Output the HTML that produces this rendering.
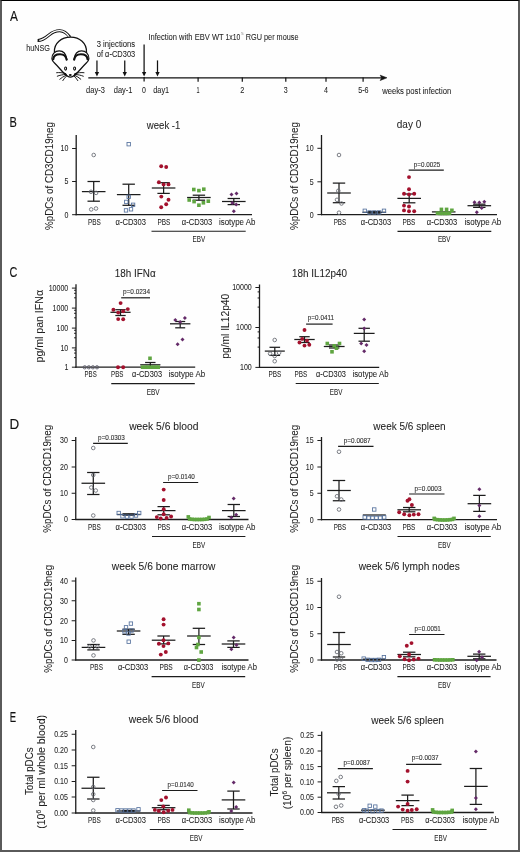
<!DOCTYPE html>
<html><head><meta charset="utf-8"><style>
html,body{margin:0;padding:0;background:#fff;}
body{width:520px;height:852px;overflow:hidden;position:relative;}
#fr{position:absolute;left:0;top:0;width:520px;height:852px;box-sizing:border-box;border-top:1.5px solid #000;border-left:2px solid #5a5a5a;border-right:2px solid #5a5a5a;border-bottom:2px solid #5a5a5a;pointer-events:none;}
svg{position:absolute;left:0;top:0;display:block;will-change:transform;}
svg text{font-family:"Liberation Sans", sans-serif;}
</style></head><body>
<svg width="520" height="852" viewBox="0 0 520 852" font-family="Liberation Sans, sans-serif">
<rect x="0" y="0" width="520" height="852" fill="#fefefe"/>
<text x="9.90" y="21.40" font-size="14.2" text-anchor="start" fill="#111" stroke="#111" stroke-width="0.1" textLength="7.92" lengthAdjust="spacingAndGlyphs" >A</text>
<text x="9.62" y="127.30" font-size="14.2" text-anchor="start" fill="#111" stroke="#111" stroke-width="0.1" textLength="7.36" lengthAdjust="spacingAndGlyphs" >B</text>
<text x="9.56" y="276.50" font-size="14.2" text-anchor="start" fill="#111" stroke="#111" stroke-width="0.1" textLength="7.85" lengthAdjust="spacingAndGlyphs" >C</text>
<text x="9.42" y="429.10" font-size="14.2" text-anchor="start" fill="#111" stroke="#111" stroke-width="0.1" textLength="9.71" lengthAdjust="spacingAndGlyphs" >D</text>
<text x="9.74" y="722.30" font-size="14.2" text-anchor="start" fill="#111" stroke="#111" stroke-width="0.1" textLength="6.36" lengthAdjust="spacingAndGlyphs" >E</text>
<g fill="none" stroke="#111" stroke-width="1.25" stroke-linecap="round" stroke-linejoin="round">
<path d="M37.6 40.5 C42 40.6 46 37.5 49 35 C52 32.5 55.5 30.6 59.8 30.7 C63.8 30.8 67.2 33.5 70 37.2" stroke-width="3.0" stroke-linecap="butt"/>
<path d="M39.3 40.4 C42.5 40.2 46 37.5 49 35 C52 32.5 55.5 30.6 59.8 30.7 C63.8 30.8 67.2 33.5 69.6 37.6" stroke="#fff" stroke-width="1.3" stroke-linecap="butt"/>
<path d="M54.4 52 C54 43 61.5 37.2 70.6 37.2 C79.5 37.2 87 43 86.5 52.5" fill="#fff"/>
<path d="M66.9 59.5 C66 53.5 62.5 50.9 59.2 50.9 C55 50.9 51.6 54.2 51.9 58.6 C52.1 60.6 53.1 61.8 54.5 63 C57.8 66.2 60.8 70 63.8 73 C65.8 75 68 77.1 70.4 77.1 C72.8 77.1 75 75 77 73 C80 70 83 66.2 86.3 63 C87.7 61.8 88.7 60.6 88.9 58.6 C89.2 54.2 85.8 50.9 81.6 50.9 C78.3 50.9 74.8 53.5 73.9 59.5" fill="#fff"/>
<path d="M53.3 59.3 C53.5 55.9 56.5 54.3 60.0 54.3 C63.5 54.3 66.0 56.1 66.6 59.6" stroke-width="2.1"/>
<path d="M87.5 59.3 C87.3 55.9 84.3 54.3 80.8 54.3 C77.3 54.3 74.8 56.1 74.2 59.6" stroke-width="2.1"/>
</g>
<g fill="#fff" stroke="#111" stroke-width="1.05">
<ellipse cx="65.6" cy="68.6" rx="1.0" ry="1.55"/><ellipse cx="74.6" cy="68.6" rx="1.0" ry="1.55"/>
</g>
<ellipse cx="70.3" cy="75.0" rx="1.45" ry="1.1" fill="#111"/>
<g fill="none" stroke="#111" stroke-width="0.95" stroke-linecap="round">
<path d="M65.8 73.6 C62.5 72.6 59.5 72.4 56.6 72.7"/>
<path d="M65.8 74.5 C62.5 74.6 59.8 75.2 57.3 76.2"/>
<path d="M66.2 75.2 C63.8 76.3 61.6 77.6 59.8 79.2"/>
<path d="M66.8 75.8 C65.2 77.3 63.8 78.9 62.8 80.6"/>
<path d="M74.8 73.6 C78.1 72.6 81.1 72.4 84.0 72.7"/>
<path d="M74.8 74.5 C78.1 74.6 80.8 75.2 83.3 76.2"/>
<path d="M74.4 75.2 C76.8 76.3 79.0 77.6 80.8 79.2"/>
<path d="M73.8 75.8 C75.4 77.3 76.8 78.9 77.8 80.6"/>
</g>
<path d="M63.8 72.6 L66.8 74.2 L66.4 76 L64.2 74.6 Z M76.8 72.6 L73.8 74.2 L74.2 76 L76.4 74.6 Z" fill="#111"/>
<text x="26.13" y="50.60" font-size="8.3" text-anchor="start" fill="#1e1e1e" stroke="#1e1e1e" stroke-width="0.06" textLength="23.92" lengthAdjust="spacingAndGlyphs" >huNSG</text>
<line x1="88.3" y1="77.8" x2="382" y2="77.8" stroke="#111" stroke-width="1.3"/>
<path d="M386.9 77.8 L380.2 75.2 L381.7 77.8 L380.2 80.5 Z" fill="#111" stroke="#111" stroke-width="0.6" stroke-linejoin="round"/>
<line x1="96.95" y1="60.40" x2="96.95" y2="73.50" stroke="#111" stroke-width="1.25"/>
<path d="M94.80 72.10 L99.10 72.10 L96.95 76.50 Z" fill="#111"/>
<line x1="124.75" y1="60.40" x2="124.75" y2="73.50" stroke="#111" stroke-width="1.25"/>
<path d="M122.60 72.10 L126.90 72.10 L124.75 76.50 Z" fill="#111"/>
<line x1="144.10" y1="44.60" x2="144.10" y2="73.50" stroke="#111" stroke-width="1.25"/>
<path d="M141.95 72.10 L146.25 72.10 L144.10 76.50 Z" fill="#111"/>
<line x1="157.50" y1="60.40" x2="157.50" y2="73.50" stroke="#111" stroke-width="1.25"/>
<path d="M155.35 72.10 L159.65 72.10 L157.50 76.50 Z" fill="#111"/>
<line x1="144.10" y1="77.00" x2="144.10" y2="81.60" stroke="#111" stroke-width="1.2"/>
<line x1="198.10" y1="77.50" x2="198.10" y2="81.70" stroke="#111" stroke-width="1.2"/>
<line x1="242.30" y1="77.50" x2="242.30" y2="81.70" stroke="#111" stroke-width="1.2"/>
<line x1="285.80" y1="77.50" x2="285.80" y2="81.70" stroke="#111" stroke-width="1.2"/>
<line x1="326.00" y1="77.50" x2="326.00" y2="81.70" stroke="#111" stroke-width="1.2"/>
<line x1="363.10" y1="77.50" x2="363.10" y2="81.70" stroke="#111" stroke-width="1.2"/>
<text x="96.73" y="46.70" font-size="8.4" text-anchor="start" fill="#1e1e1e" stroke="#1e1e1e" stroke-width="0.06" textLength="38.42" lengthAdjust="spacingAndGlyphs" >3 injections</text>
<text x="96.80" y="56.60" font-size="8.4" text-anchor="start" fill="#1e1e1e" stroke="#1e1e1e" stroke-width="0.06" textLength="38.40" lengthAdjust="spacingAndGlyphs" >of &#945;-CD303</text>
<text x="148.42" y="39.90" font-size="8.5" text-anchor="start" fill="#1e1e1e" stroke="#1e1e1e" stroke-width="0.06" textLength="75.25" lengthAdjust="spacingAndGlyphs" >Infection with EBV WT</text>
<text x="225.59" y="39.90" font-size="8.5" text-anchor="start" fill="#1e1e1e" stroke="#1e1e1e" stroke-width="0.06" textLength="14.67" lengthAdjust="spacingAndGlyphs" >1x10</text>
<text x="241.13" y="35.30" font-size="4.4" text-anchor="start" fill="#777" stroke="#777" stroke-width="0" textLength="2.34" lengthAdjust="spacingAndGlyphs" >5</text>
<text x="245.82" y="39.90" font-size="8.5" text-anchor="start" fill="#1e1e1e" stroke="#1e1e1e" stroke-width="0.06" textLength="52.67" lengthAdjust="spacingAndGlyphs" >RGU per mouse</text>
<text x="86.10" y="92.50" font-size="8.4" text-anchor="start" fill="#1e1e1e" stroke="#1e1e1e" stroke-width="0.06" textLength="18.71" lengthAdjust="spacingAndGlyphs" >day-3</text>
<text x="113.80" y="92.50" font-size="8.4" text-anchor="start" fill="#1e1e1e" stroke="#1e1e1e" stroke-width="0.06" textLength="18.65" lengthAdjust="spacingAndGlyphs" >day-1</text>
<text x="142.05" y="92.50" font-size="8.4" text-anchor="start" fill="#1e1e1e" stroke="#1e1e1e" stroke-width="0.06" textLength="3.90" lengthAdjust="spacingAndGlyphs" >0</text>
<text x="153.21" y="92.50" font-size="8.4" text-anchor="start" fill="#1e1e1e" stroke="#1e1e1e" stroke-width="0.06" textLength="15.95" lengthAdjust="spacingAndGlyphs" >day1</text>
<text x="196.49" y="92.50" font-size="8.4" text-anchor="start" fill="#1e1e1e" stroke="#1e1e1e" stroke-width="0.06" textLength="3.07" lengthAdjust="spacingAndGlyphs" >1</text>
<text x="240.23" y="92.50" font-size="8.4" text-anchor="start" fill="#1e1e1e" stroke="#1e1e1e" stroke-width="0.06" textLength="4.11" lengthAdjust="spacingAndGlyphs" >2</text>
<text x="283.85" y="92.50" font-size="8.4" text-anchor="start" fill="#1e1e1e" stroke="#1e1e1e" stroke-width="0.06" textLength="3.94" lengthAdjust="spacingAndGlyphs" >3</text>
<text x="324.06" y="92.50" font-size="8.4" text-anchor="start" fill="#1e1e1e" stroke="#1e1e1e" stroke-width="0.06" textLength="3.93" lengthAdjust="spacingAndGlyphs" >4</text>
<text x="358.21" y="92.50" font-size="8.4" text-anchor="start" fill="#1e1e1e" stroke="#1e1e1e" stroke-width="0.06" textLength="10.38" lengthAdjust="spacingAndGlyphs" >5-6</text>
<text x="382.14" y="93.80" font-size="8.5" text-anchor="start" fill="#1e1e1e" stroke="#1e1e1e" stroke-width="0.06" textLength="69.12" lengthAdjust="spacingAndGlyphs" >weeks post infection</text>
<line x1="76.20" y1="135.00" x2="76.20" y2="215.30" stroke="#1c1c1c" stroke-width="1.3"/>
<line x1="75.60" y1="214.70" x2="252.00" y2="214.70" stroke="#1c1c1c" stroke-width="1.3"/>
<line x1="72.10" y1="148.50" x2="76.20" y2="148.50" stroke="#1c1c1c" stroke-width="1.0"/>
<text x="60.51" y="151.40" font-size="8.4" text-anchor="start" fill="#1e1e1e" stroke="#1e1e1e" stroke-width="0.06" textLength="7.85" lengthAdjust="spacingAndGlyphs" >10</text>
<line x1="72.10" y1="181.50" x2="76.20" y2="181.50" stroke="#1c1c1c" stroke-width="1.0"/>
<text x="64.47" y="184.40" font-size="8.4" text-anchor="start" fill="#1e1e1e" stroke="#1e1e1e" stroke-width="0.06" textLength="3.92" lengthAdjust="spacingAndGlyphs" >5</text>
<line x1="72.10" y1="214.70" x2="76.20" y2="214.70" stroke="#1c1c1c" stroke-width="1.0"/>
<text x="64.43" y="217.60" font-size="8.4" text-anchor="start" fill="#1e1e1e" stroke="#1e1e1e" stroke-width="0.06" textLength="3.92" lengthAdjust="spacingAndGlyphs" >0</text>
<text x="146.85" y="128.50" font-size="11.2" text-anchor="start" fill="#1e1e1e" stroke="#1e1e1e" stroke-width="0.06" textLength="33.50" lengthAdjust="spacingAndGlyphs" >week -1</text>
<text transform="translate(52.50,176.00) rotate(-90)" x="0" y="0" font-size="10" text-anchor="middle" fill="#1e1e1e" stroke="#1e1e1e" stroke-width="0.06" textLength="108.00" lengthAdjust="spacingAndGlyphs">%pDCs of CD3CD19neg</text>
<line x1="81.90" y1="191.60" x2="105.50" y2="191.60" stroke="#1c1c1c" stroke-width="1.25"/>
<line x1="93.70" y1="181.50" x2="93.70" y2="201.20" stroke="#1c1c1c" stroke-width="1.25"/>
<line x1="87.50" y1="181.50" x2="99.90" y2="181.50" stroke="#1c1c1c" stroke-width="1.25"/>
<line x1="87.50" y1="201.20" x2="99.90" y2="201.20" stroke="#1c1c1c" stroke-width="1.25"/>
<circle cx="93.70" cy="155.00" r="1.8" fill="none" stroke="#646870" stroke-width="0.85"/>
<circle cx="91.20" cy="209.40" r="1.8" fill="none" stroke="#646870" stroke-width="0.85"/>
<circle cx="96.00" cy="208.50" r="1.8" fill="none" stroke="#646870" stroke-width="0.85"/>
<circle cx="91.00" cy="191.80" r="1.8" fill="none" stroke="#646870" stroke-width="0.85"/>
<circle cx="96.10" cy="192.90" r="1.8" fill="none" stroke="#646870" stroke-width="0.85"/>
<line x1="116.90" y1="194.60" x2="140.50" y2="194.60" stroke="#1c1c1c" stroke-width="1.25"/>
<line x1="128.70" y1="184.20" x2="128.70" y2="205.30" stroke="#1c1c1c" stroke-width="1.25"/>
<line x1="122.50" y1="184.20" x2="134.90" y2="184.20" stroke="#1c1c1c" stroke-width="1.25"/>
<line x1="122.50" y1="205.30" x2="134.90" y2="205.30" stroke="#1c1c1c" stroke-width="1.25"/>
<rect x="127.00" y="142.50" width="3.4" height="3.4" fill="none" stroke="#56729e" stroke-width="0.85"/>
<rect x="127.00" y="195.10" width="3.4" height="3.4" fill="none" stroke="#56729e" stroke-width="0.85"/>
<rect x="124.60" y="200.20" width="3.4" height="3.4" fill="none" stroke="#56729e" stroke-width="0.85"/>
<rect x="131.40" y="203.10" width="3.4" height="3.4" fill="none" stroke="#56729e" stroke-width="0.85"/>
<rect x="129.30" y="207.60" width="3.4" height="3.4" fill="none" stroke="#56729e" stroke-width="0.85"/>
<rect x="124.30" y="208.70" width="3.4" height="3.4" fill="none" stroke="#56729e" stroke-width="0.85"/>
<line x1="151.80" y1="188.00" x2="175.40" y2="188.00" stroke="#1c1c1c" stroke-width="1.25"/>
<line x1="163.60" y1="182.70" x2="163.60" y2="193.40" stroke="#1c1c1c" stroke-width="1.25"/>
<line x1="157.40" y1="182.70" x2="169.80" y2="182.70" stroke="#1c1c1c" stroke-width="1.25"/>
<line x1="157.40" y1="193.40" x2="169.80" y2="193.40" stroke="#1c1c1c" stroke-width="1.25"/>
<circle cx="161.20" cy="166.20" r="1.95" fill="#a3112d"/>
<circle cx="166.20" cy="167.00" r="1.95" fill="#a3112d"/>
<circle cx="158.90" cy="182.30" r="1.95" fill="#a3112d"/>
<circle cx="163.60" cy="184.40" r="1.95" fill="#a3112d"/>
<circle cx="168.50" cy="184.40" r="1.95" fill="#a3112d"/>
<circle cx="161.30" cy="196.60" r="1.95" fill="#a3112d"/>
<circle cx="168.50" cy="199.80" r="1.95" fill="#a3112d"/>
<circle cx="166.20" cy="204.20" r="1.95" fill="#a3112d"/>
<circle cx="161.20" cy="207.30" r="1.95" fill="#a3112d"/>
<line x1="187.10" y1="197.50" x2="210.70" y2="197.50" stroke="#1c1c1c" stroke-width="1.25"/>
<line x1="198.90" y1="195.20" x2="198.90" y2="200.20" stroke="#1c1c1c" stroke-width="1.25"/>
<line x1="192.70" y1="195.20" x2="205.10" y2="195.20" stroke="#1c1c1c" stroke-width="1.25"/>
<line x1="192.70" y1="200.20" x2="205.10" y2="200.20" stroke="#1c1c1c" stroke-width="1.25"/>
<rect x="192.00" y="187.70" width="3.6" height="3.6" fill="#5fa541"/>
<rect x="197.10" y="188.80" width="3.6" height="3.6" fill="#5fa541"/>
<rect x="202.00" y="187.40" width="3.6" height="3.6" fill="#5fa541"/>
<rect x="187.40" y="198.20" width="3.6" height="3.6" fill="#5fa541"/>
<rect x="192.30" y="199.80" width="3.6" height="3.6" fill="#5fa541"/>
<rect x="197.10" y="203.40" width="3.6" height="3.6" fill="#5fa541"/>
<rect x="201.60" y="201.00" width="3.6" height="3.6" fill="#5fa541"/>
<rect x="206.50" y="199.40" width="3.6" height="3.6" fill="#5fa541"/>
<line x1="222.00" y1="201.50" x2="245.60" y2="201.50" stroke="#1c1c1c" stroke-width="1.25"/>
<line x1="233.80" y1="198.50" x2="233.80" y2="204.60" stroke="#1c1c1c" stroke-width="1.25"/>
<line x1="227.60" y1="198.50" x2="240.00" y2="198.50" stroke="#1c1c1c" stroke-width="1.25"/>
<line x1="227.60" y1="204.60" x2="240.00" y2="204.60" stroke="#1c1c1c" stroke-width="1.25"/>
<path d="M231.50 192.60L233.50 194.60L231.50 196.60L229.50 194.60Z" fill="#642a68"/>
<path d="M236.50 191.40L238.50 193.40L236.50 195.40L234.50 193.40Z" fill="#642a68"/>
<path d="M232.30 201.00L234.30 203.00L232.30 205.00L230.30 203.00Z" fill="#642a68"/>
<path d="M236.20 202.60L238.20 204.60L236.20 206.60L234.20 204.60Z" fill="#642a68"/>
<path d="M233.80 209.20L235.80 211.20L233.80 213.20L231.80 211.20Z" fill="#642a68"/>
<text x="87.89" y="224.65" font-size="8.4" text-anchor="start" fill="#1e1e1e" stroke="#1e1e1e" stroke-width="0.06" textLength="12.83" lengthAdjust="spacingAndGlyphs" >PBS</text>
<text x="115.50" y="224.65" font-size="8.4" text-anchor="start" fill="#1e1e1e" stroke="#1e1e1e" stroke-width="0.06" textLength="30.50" lengthAdjust="spacingAndGlyphs" >&#945;-CD303</text>
<text x="157.39" y="224.65" font-size="8.4" text-anchor="start" fill="#1e1e1e" stroke="#1e1e1e" stroke-width="0.06" textLength="12.88" lengthAdjust="spacingAndGlyphs" >PBS</text>
<text x="181.80" y="224.65" font-size="8.4" text-anchor="start" fill="#1e1e1e" stroke="#1e1e1e" stroke-width="0.06" textLength="30.50" lengthAdjust="spacingAndGlyphs" >&#945;-CD303</text>
<text x="218.99" y="224.65" font-size="8.4" text-anchor="start" fill="#1e1e1e" stroke="#1e1e1e" stroke-width="0.06" textLength="36.42" lengthAdjust="spacingAndGlyphs" >isotype Ab</text>
<line x1="151.50" y1="231.20" x2="245.70" y2="231.20" stroke="#1c1c1c" stroke-width="1.15"/>
<text x="192.60" y="242.30" font-size="8.4" text-anchor="start" fill="#1e1e1e" stroke="#1e1e1e" stroke-width="0.06" textLength="12.61" lengthAdjust="spacingAndGlyphs" >EBV</text>
<line x1="321.50" y1="135.00" x2="321.50" y2="215.20" stroke="#1c1c1c" stroke-width="1.3"/>
<line x1="320.90" y1="214.60" x2="497.00" y2="214.60" stroke="#1c1c1c" stroke-width="1.3"/>
<line x1="317.40" y1="148.30" x2="321.50" y2="148.30" stroke="#1c1c1c" stroke-width="1.0"/>
<text x="305.81" y="151.20" font-size="8.4" text-anchor="start" fill="#1e1e1e" stroke="#1e1e1e" stroke-width="0.06" textLength="7.85" lengthAdjust="spacingAndGlyphs" >10</text>
<line x1="317.40" y1="181.80" x2="321.50" y2="181.80" stroke="#1c1c1c" stroke-width="1.0"/>
<text x="309.77" y="184.70" font-size="8.4" text-anchor="start" fill="#1e1e1e" stroke="#1e1e1e" stroke-width="0.06" textLength="3.92" lengthAdjust="spacingAndGlyphs" >5</text>
<line x1="317.40" y1="214.60" x2="321.50" y2="214.60" stroke="#1c1c1c" stroke-width="1.0"/>
<text x="309.73" y="217.50" font-size="8.4" text-anchor="start" fill="#1e1e1e" stroke="#1e1e1e" stroke-width="0.06" textLength="3.92" lengthAdjust="spacingAndGlyphs" >0</text>
<text x="396.80" y="128.20" font-size="11.2" text-anchor="start" fill="#1e1e1e" stroke="#1e1e1e" stroke-width="0.06" textLength="24.46" lengthAdjust="spacingAndGlyphs" >day 0</text>
<text transform="translate(297.80,176.00) rotate(-90)" x="0" y="0" font-size="10" text-anchor="middle" fill="#1e1e1e" stroke="#1e1e1e" stroke-width="0.06" textLength="108.00" lengthAdjust="spacingAndGlyphs">%pDCs of CD3CD19neg</text>
<line x1="327.20" y1="193.00" x2="350.80" y2="193.00" stroke="#1c1c1c" stroke-width="1.25"/>
<line x1="339.00" y1="183.10" x2="339.00" y2="202.70" stroke="#1c1c1c" stroke-width="1.25"/>
<line x1="332.80" y1="183.10" x2="345.20" y2="183.10" stroke="#1c1c1c" stroke-width="1.25"/>
<line x1="332.80" y1="202.70" x2="345.20" y2="202.70" stroke="#1c1c1c" stroke-width="1.25"/>
<circle cx="339.00" cy="155.00" r="1.8" fill="none" stroke="#646870" stroke-width="0.85"/>
<circle cx="338.30" cy="190.80" r="1.8" fill="none" stroke="#646870" stroke-width="0.85"/>
<circle cx="337.00" cy="199.80" r="1.8" fill="none" stroke="#646870" stroke-width="0.85"/>
<circle cx="341.50" cy="203.50" r="1.8" fill="none" stroke="#646870" stroke-width="0.85"/>
<circle cx="339.00" cy="212.70" r="1.8" fill="none" stroke="#646870" stroke-width="0.85"/>
<line x1="362.50" y1="212.30" x2="386.10" y2="212.30" stroke="#1c1c1c" stroke-width="1.25"/>
<line x1="374.30" y1="211.50" x2="374.30" y2="213.20" stroke="#1c1c1c" stroke-width="1.25"/>
<line x1="368.10" y1="211.50" x2="380.50" y2="211.50" stroke="#1c1c1c" stroke-width="1.25"/>
<line x1="368.10" y1="213.20" x2="380.50" y2="213.20" stroke="#1c1c1c" stroke-width="1.25"/>
<rect x="363.10" y="209.10" width="3.4" height="3.4" fill="none" stroke="#56729e" stroke-width="0.85"/>
<rect x="382.30" y="209.10" width="3.4" height="3.4" fill="none" stroke="#56729e" stroke-width="0.85"/>
<rect x="367.80" y="210.80" width="3.4" height="3.4" fill="none" stroke="#56729e" stroke-width="0.85"/>
<rect x="372.60" y="210.80" width="3.4" height="3.4" fill="none" stroke="#56729e" stroke-width="0.85"/>
<rect x="377.50" y="210.80" width="3.4" height="3.4" fill="none" stroke="#56729e" stroke-width="0.85"/>
<line x1="397.40" y1="198.40" x2="421.00" y2="198.40" stroke="#1c1c1c" stroke-width="1.25"/>
<line x1="409.20" y1="194.00" x2="409.20" y2="202.80" stroke="#1c1c1c" stroke-width="1.25"/>
<line x1="403.00" y1="194.00" x2="415.40" y2="194.00" stroke="#1c1c1c" stroke-width="1.25"/>
<line x1="403.00" y1="202.80" x2="415.40" y2="202.80" stroke="#1c1c1c" stroke-width="1.25"/>
<circle cx="409.00" cy="177.10" r="1.95" fill="#a3112d"/>
<circle cx="409.00" cy="189.20" r="1.95" fill="#a3112d"/>
<circle cx="404.00" cy="193.70" r="1.95" fill="#a3112d"/>
<circle cx="409.00" cy="194.40" r="1.95" fill="#a3112d"/>
<circle cx="414.20" cy="193.70" r="1.95" fill="#a3112d"/>
<circle cx="404.00" cy="205.60" r="1.95" fill="#a3112d"/>
<circle cx="409.00" cy="206.50" r="1.95" fill="#a3112d"/>
<circle cx="404.00" cy="210.40" r="1.95" fill="#a3112d"/>
<circle cx="409.00" cy="211.30" r="1.95" fill="#a3112d"/>
<circle cx="414.20" cy="211.30" r="1.95" fill="#a3112d"/>
<line x1="431.90" y1="211.90" x2="455.50" y2="211.90" stroke="#1c1c1c" stroke-width="1.25"/>
<line x1="443.70" y1="211.90" x2="443.70" y2="211.90" stroke="#1c1c1c" stroke-width="1.25"/>
<line x1="443.70" y1="211.90" x2="443.70" y2="211.90" stroke="#1c1c1c" stroke-width="1.25"/>
<line x1="443.70" y1="211.90" x2="443.70" y2="211.90" stroke="#1c1c1c" stroke-width="1.25"/>
<rect x="435.70" y="211.40" width="3.6" height="3.6" fill="#5fa541"/>
<rect x="438.20" y="211.60" width="3.6" height="3.6" fill="#5fa541"/>
<rect x="440.70" y="211.60" width="3.6" height="3.6" fill="#5fa541"/>
<rect x="443.20" y="211.60" width="3.6" height="3.6" fill="#5fa541"/>
<rect x="445.70" y="211.60" width="3.6" height="3.6" fill="#5fa541"/>
<rect x="447.70" y="211.40" width="3.6" height="3.6" fill="#5fa541"/>
<rect x="439.60" y="207.60" width="3.6" height="3.6" fill="#5fa541"/>
<rect x="444.80" y="207.60" width="3.6" height="3.6" fill="#5fa541"/>
<rect x="450.10" y="208.50" width="3.6" height="3.6" fill="#5fa541"/>
<line x1="467.50" y1="205.70" x2="491.10" y2="205.70" stroke="#1c1c1c" stroke-width="1.25"/>
<line x1="479.30" y1="204.20" x2="479.30" y2="207.40" stroke="#1c1c1c" stroke-width="1.25"/>
<line x1="473.10" y1="204.20" x2="485.50" y2="204.20" stroke="#1c1c1c" stroke-width="1.25"/>
<line x1="473.10" y1="207.40" x2="485.50" y2="207.40" stroke="#1c1c1c" stroke-width="1.25"/>
<path d="M474.50 200.30L476.50 202.30L474.50 204.30L472.50 202.30Z" fill="#642a68"/>
<path d="M479.30 200.50L481.30 202.50L479.30 204.50L477.30 202.50Z" fill="#642a68"/>
<path d="M484.30 199.70L486.30 201.70L484.30 203.70L482.30 201.70Z" fill="#642a68"/>
<path d="M481.70 206.00L483.70 208.00L481.70 210.00L479.70 208.00Z" fill="#642a68"/>
<path d="M476.80 210.30L478.80 212.30L476.80 214.30L474.80 212.30Z" fill="#642a68"/>
<line x1="408.70" y1="170.10" x2="443.80" y2="170.10" stroke="#1c1c1c" stroke-width="1.2"/>
<text x="413.72" y="166.60" font-size="6.7" text-anchor="start" fill="#2e2e2e" stroke="#2e2e2e" stroke-width="0.1" textLength="26.42" lengthAdjust="spacingAndGlyphs" >p=0.0025</text>
<text x="333.70" y="224.65" font-size="8.4" text-anchor="start" fill="#1e1e1e" stroke="#1e1e1e" stroke-width="0.06" textLength="12.51" lengthAdjust="spacingAndGlyphs" >PBS</text>
<text x="360.80" y="224.65" font-size="8.4" text-anchor="start" fill="#1e1e1e" stroke="#1e1e1e" stroke-width="0.06" textLength="30.30" lengthAdjust="spacingAndGlyphs" >&#945;-CD303</text>
<text x="402.39" y="224.65" font-size="8.4" text-anchor="start" fill="#1e1e1e" stroke="#1e1e1e" stroke-width="0.06" textLength="12.88" lengthAdjust="spacingAndGlyphs" >PBS</text>
<text x="426.80" y="224.65" font-size="8.4" text-anchor="start" fill="#1e1e1e" stroke="#1e1e1e" stroke-width="0.06" textLength="30.50" lengthAdjust="spacingAndGlyphs" >&#945;-CD303</text>
<text x="464.48" y="224.65" font-size="8.4" text-anchor="start" fill="#1e1e1e" stroke="#1e1e1e" stroke-width="0.06" textLength="36.73" lengthAdjust="spacingAndGlyphs" >isotype Ab</text>
<line x1="397.50" y1="231.30" x2="491.30" y2="231.30" stroke="#1c1c1c" stroke-width="1.15"/>
<text x="437.90" y="242.40" font-size="8.4" text-anchor="start" fill="#1e1e1e" stroke="#1e1e1e" stroke-width="0.06" textLength="12.61" lengthAdjust="spacingAndGlyphs" >EBV</text>
<line x1="76.00" y1="284.30" x2="76.00" y2="367.80" stroke="#1c1c1c" stroke-width="1.3"/>
<line x1="75.40" y1="367.20" x2="195.20" y2="367.20" stroke="#1c1c1c" stroke-width="1.3"/>
<line x1="71.90" y1="288.10" x2="76.00" y2="288.10" stroke="#1c1c1c" stroke-width="1.0"/>
<text x="48.63" y="291.00" font-size="8.4" text-anchor="start" fill="#1e1e1e" stroke="#1e1e1e" stroke-width="0.06" textLength="19.62" lengthAdjust="spacingAndGlyphs" >10000</text>
<line x1="71.90" y1="308.10" x2="76.00" y2="308.10" stroke="#1c1c1c" stroke-width="1.0"/>
<text x="52.55" y="311.00" font-size="8.4" text-anchor="start" fill="#1e1e1e" stroke="#1e1e1e" stroke-width="0.06" textLength="15.70" lengthAdjust="spacingAndGlyphs" >1000</text>
<line x1="71.90" y1="328.10" x2="76.00" y2="328.10" stroke="#1c1c1c" stroke-width="1.0"/>
<text x="56.50" y="331.00" font-size="8.4" text-anchor="start" fill="#1e1e1e" stroke="#1e1e1e" stroke-width="0.06" textLength="11.77" lengthAdjust="spacingAndGlyphs" >100</text>
<line x1="71.90" y1="347.90" x2="76.00" y2="347.90" stroke="#1c1c1c" stroke-width="1.0"/>
<text x="60.41" y="350.80" font-size="8.4" text-anchor="start" fill="#1e1e1e" stroke="#1e1e1e" stroke-width="0.06" textLength="7.85" lengthAdjust="spacingAndGlyphs" >10</text>
<line x1="71.90" y1="367.20" x2="76.00" y2="367.20" stroke="#1c1c1c" stroke-width="1.0"/>
<text x="64.40" y="370.10" font-size="8.4" text-anchor="start" fill="#1e1e1e" stroke="#1e1e1e" stroke-width="0.06" textLength="3.92" lengthAdjust="spacingAndGlyphs" >1</text>
<line x1="74.10" y1="290.28" x2="76.00" y2="290.28" stroke="#1c1c1c" stroke-width="1.0"/>
<line x1="74.10" y1="293.29" x2="76.00" y2="293.29" stroke="#1c1c1c" stroke-width="1.0"/>
<line x1="74.10" y1="297.80" x2="76.00" y2="297.80" stroke="#1c1c1c" stroke-width="1.0"/>
<line x1="74.10" y1="310.28" x2="76.00" y2="310.28" stroke="#1c1c1c" stroke-width="1.0"/>
<line x1="74.10" y1="313.29" x2="76.00" y2="313.29" stroke="#1c1c1c" stroke-width="1.0"/>
<line x1="74.10" y1="317.80" x2="76.00" y2="317.80" stroke="#1c1c1c" stroke-width="1.0"/>
<line x1="74.10" y1="330.28" x2="76.00" y2="330.28" stroke="#1c1c1c" stroke-width="1.0"/>
<line x1="74.10" y1="333.29" x2="76.00" y2="333.29" stroke="#1c1c1c" stroke-width="1.0"/>
<line x1="74.10" y1="337.80" x2="76.00" y2="337.80" stroke="#1c1c1c" stroke-width="1.0"/>
<line x1="74.10" y1="350.08" x2="76.00" y2="350.08" stroke="#1c1c1c" stroke-width="1.0"/>
<line x1="74.10" y1="353.09" x2="76.00" y2="353.09" stroke="#1c1c1c" stroke-width="1.0"/>
<line x1="74.10" y1="357.60" x2="76.00" y2="357.60" stroke="#1c1c1c" stroke-width="1.0"/>
<text x="114.86" y="276.70" font-size="11.2" text-anchor="start" fill="#1e1e1e" stroke="#1e1e1e" stroke-width="0.06" textLength="40.84" lengthAdjust="spacingAndGlyphs" >18h IFN&#945;</text>
<text transform="translate(42.60,326.25) rotate(-90)" x="0" y="0" font-size="10" text-anchor="middle" fill="#1e1e1e" stroke="#1e1e1e" stroke-width="0.06" textLength="72.50" lengthAdjust="spacingAndGlyphs">pg/ml pan IFN&#945;</text>
<circle cx="84.70" cy="367.30" r="1.65" fill="none" stroke="#5a5a6a" stroke-width="0.9"/>
<circle cx="88.80" cy="367.30" r="1.65" fill="none" stroke="#5a5a6a" stroke-width="0.9"/>
<circle cx="92.90" cy="367.30" r="1.65" fill="none" stroke="#5a5a6a" stroke-width="0.9"/>
<circle cx="97.00" cy="367.30" r="1.65" fill="none" stroke="#5a5a6a" stroke-width="0.9"/>
<line x1="110.40" y1="312.30" x2="130.60" y2="312.30" stroke="#1c1c1c" stroke-width="1.25"/>
<line x1="120.50" y1="309.70" x2="120.50" y2="315.50" stroke="#1c1c1c" stroke-width="1.25"/>
<line x1="115.30" y1="309.70" x2="125.70" y2="309.70" stroke="#1c1c1c" stroke-width="1.25"/>
<line x1="115.30" y1="315.50" x2="125.70" y2="315.50" stroke="#1c1c1c" stroke-width="1.25"/>
<circle cx="120.60" cy="303.10" r="1.95" fill="#a3112d"/>
<circle cx="113.40" cy="309.70" r="1.95" fill="#a3112d"/>
<circle cx="127.80" cy="309.10" r="1.95" fill="#a3112d"/>
<circle cx="118.20" cy="312.60" r="1.95" fill="#a3112d"/>
<circle cx="123.20" cy="311.20" r="1.95" fill="#a3112d"/>
<circle cx="118.20" cy="319.10" r="1.95" fill="#a3112d"/>
<circle cx="123.20" cy="319.20" r="1.95" fill="#a3112d"/>
<circle cx="118.00" cy="367.30" r="1.95" fill="#a3112d"/>
<circle cx="123.20" cy="367.30" r="1.95" fill="#a3112d"/>
<line x1="140.20" y1="364.80" x2="160.40" y2="364.80" stroke="#1c1c1c" stroke-width="1.25"/>
<line x1="150.30" y1="362.50" x2="150.30" y2="366.50" stroke="#1c1c1c" stroke-width="1.25"/>
<line x1="145.10" y1="362.50" x2="155.50" y2="362.50" stroke="#1c1c1c" stroke-width="1.25"/>
<line x1="145.10" y1="366.50" x2="155.50" y2="366.50" stroke="#1c1c1c" stroke-width="1.25"/>
<rect x="148.20" y="356.50" width="3.6" height="3.6" fill="#5fa541"/>
<rect x="140.80" y="365.40" width="3.6" height="3.6" fill="#5fa541"/>
<rect x="143.60" y="365.40" width="3.6" height="3.6" fill="#5fa541"/>
<rect x="146.40" y="365.40" width="3.6" height="3.6" fill="#5fa541"/>
<rect x="149.20" y="365.40" width="3.6" height="3.6" fill="#5fa541"/>
<rect x="152.00" y="365.40" width="3.6" height="3.6" fill="#5fa541"/>
<rect x="154.80" y="365.40" width="3.6" height="3.6" fill="#5fa541"/>
<rect x="156.40" y="365.40" width="3.6" height="3.6" fill="#5fa541"/>
<line x1="170.00" y1="323.80" x2="190.40" y2="323.80" stroke="#1c1c1c" stroke-width="1.25"/>
<line x1="180.20" y1="321.50" x2="180.20" y2="327.80" stroke="#1c1c1c" stroke-width="1.25"/>
<line x1="175.20" y1="321.50" x2="185.20" y2="321.50" stroke="#1c1c1c" stroke-width="1.25"/>
<line x1="175.20" y1="327.80" x2="185.20" y2="327.80" stroke="#1c1c1c" stroke-width="1.25"/>
<path d="M175.30 318.00L177.30 320.00L175.30 322.00L173.30 320.00Z" fill="#642a68"/>
<path d="M184.90 316.00L186.90 318.00L184.90 320.00L182.90 318.00Z" fill="#642a68"/>
<path d="M180.20 320.10L182.20 322.10L180.20 324.10L178.20 322.10Z" fill="#642a68"/>
<path d="M182.50 337.60L184.50 339.60L182.50 341.60L180.50 339.60Z" fill="#642a68"/>
<path d="M177.60 342.20L179.60 344.20L177.60 346.20L175.60 344.20Z" fill="#642a68"/>
<line x1="121.20" y1="297.80" x2="150.00" y2="297.80" stroke="#1c1c1c" stroke-width="1.2"/>
<text x="123.01" y="293.60" font-size="6.7" text-anchor="start" fill="#2e2e2e" stroke="#2e2e2e" stroke-width="0.1" textLength="27.04" lengthAdjust="spacingAndGlyphs" >p=0.0234</text>
<text x="84.56" y="376.65" font-size="8.4" text-anchor="start" fill="#1e1e1e" stroke="#1e1e1e" stroke-width="0.06" textLength="12.13" lengthAdjust="spacingAndGlyphs" >PBS</text>
<text x="111.11" y="376.65" font-size="8.4" text-anchor="start" fill="#1e1e1e" stroke="#1e1e1e" stroke-width="0.06" textLength="12.35" lengthAdjust="spacingAndGlyphs" >PBS</text>
<text x="132.10" y="376.65" font-size="8.4" text-anchor="start" fill="#1e1e1e" stroke="#1e1e1e" stroke-width="0.06" textLength="29.99" lengthAdjust="spacingAndGlyphs" >&#945;-CD303</text>
<text x="168.58" y="376.65" font-size="8.4" text-anchor="start" fill="#1e1e1e" stroke="#1e1e1e" stroke-width="0.06" textLength="36.63" lengthAdjust="spacingAndGlyphs" >isotype Ab</text>
<line x1="111.25" y1="383.60" x2="194.80" y2="383.60" stroke="#1c1c1c" stroke-width="1.15"/>
<text x="146.68" y="394.70" font-size="8.4" text-anchor="start" fill="#1e1e1e" stroke="#1e1e1e" stroke-width="0.06" textLength="12.92" lengthAdjust="spacingAndGlyphs" >EBV</text>
<line x1="259.50" y1="284.50" x2="259.50" y2="368.00" stroke="#1c1c1c" stroke-width="1.3"/>
<line x1="258.90" y1="367.40" x2="379.20" y2="367.40" stroke="#1c1c1c" stroke-width="1.3"/>
<line x1="255.40" y1="287.50" x2="259.50" y2="287.50" stroke="#1c1c1c" stroke-width="1.0"/>
<text x="232.13" y="290.40" font-size="8.4" text-anchor="start" fill="#1e1e1e" stroke="#1e1e1e" stroke-width="0.06" textLength="19.62" lengthAdjust="spacingAndGlyphs" >10000</text>
<line x1="255.40" y1="327.50" x2="259.50" y2="327.50" stroke="#1c1c1c" stroke-width="1.0"/>
<text x="236.05" y="330.40" font-size="8.4" text-anchor="start" fill="#1e1e1e" stroke="#1e1e1e" stroke-width="0.06" textLength="15.70" lengthAdjust="spacingAndGlyphs" >1000</text>
<line x1="255.40" y1="367.40" x2="259.50" y2="367.40" stroke="#1c1c1c" stroke-width="1.0"/>
<text x="240.00" y="370.30" font-size="8.4" text-anchor="start" fill="#1e1e1e" stroke="#1e1e1e" stroke-width="0.06" textLength="11.77" lengthAdjust="spacingAndGlyphs" >100</text>
<line x1="257.60" y1="291.90" x2="259.50" y2="291.90" stroke="#1c1c1c" stroke-width="1.0"/>
<line x1="257.60" y1="297.98" x2="259.50" y2="297.98" stroke="#1c1c1c" stroke-width="1.0"/>
<line x1="257.60" y1="307.10" x2="259.50" y2="307.10" stroke="#1c1c1c" stroke-width="1.0"/>
<line x1="257.60" y1="331.90" x2="259.50" y2="331.90" stroke="#1c1c1c" stroke-width="1.0"/>
<line x1="257.60" y1="337.98" x2="259.50" y2="337.98" stroke="#1c1c1c" stroke-width="1.0"/>
<line x1="257.60" y1="347.10" x2="259.50" y2="347.10" stroke="#1c1c1c" stroke-width="1.0"/>
<text x="292.06" y="277.10" font-size="11.2" text-anchor="start" fill="#1e1e1e" stroke="#1e1e1e" stroke-width="0.06" textLength="55.00" lengthAdjust="spacingAndGlyphs" >18h IL12p40</text>
<text transform="translate(228.60,326.25) rotate(-90)" x="0" y="0" font-size="10" text-anchor="middle" fill="#1e1e1e" stroke="#1e1e1e" stroke-width="0.06" textLength="65.00" lengthAdjust="spacingAndGlyphs">pg/ml IL12p40</text>
<line x1="264.80" y1="351.10" x2="284.80" y2="351.10" stroke="#1c1c1c" stroke-width="1.25"/>
<line x1="274.80" y1="347.30" x2="274.80" y2="355.40" stroke="#1c1c1c" stroke-width="1.25"/>
<line x1="269.50" y1="347.30" x2="280.10" y2="347.30" stroke="#1c1c1c" stroke-width="1.25"/>
<line x1="269.50" y1="355.40" x2="280.10" y2="355.40" stroke="#1c1c1c" stroke-width="1.25"/>
<circle cx="274.70" cy="340.00" r="1.8" fill="none" stroke="#646870" stroke-width="0.85"/>
<circle cx="270.10" cy="353.70" r="1.8" fill="none" stroke="#646870" stroke-width="0.85"/>
<circle cx="279.10" cy="352.80" r="1.8" fill="none" stroke="#646870" stroke-width="0.85"/>
<circle cx="274.70" cy="356.00" r="1.8" fill="none" stroke="#646870" stroke-width="0.85"/>
<circle cx="274.70" cy="361.20" r="1.8" fill="none" stroke="#646870" stroke-width="0.85"/>
<line x1="294.30" y1="339.50" x2="314.70" y2="339.50" stroke="#1c1c1c" stroke-width="1.25"/>
<line x1="304.50" y1="336.70" x2="304.50" y2="342.50" stroke="#1c1c1c" stroke-width="1.25"/>
<line x1="299.30" y1="336.70" x2="309.70" y2="336.70" stroke="#1c1c1c" stroke-width="1.25"/>
<line x1="299.30" y1="342.50" x2="309.70" y2="342.50" stroke="#1c1c1c" stroke-width="1.25"/>
<circle cx="304.50" cy="330.00" r="1.95" fill="#a3112d"/>
<circle cx="302.20" cy="338.90" r="1.95" fill="#a3112d"/>
<circle cx="299.50" cy="342.50" r="1.95" fill="#a3112d"/>
<circle cx="307.00" cy="340.60" r="1.95" fill="#a3112d"/>
<circle cx="304.50" cy="345.60" r="1.95" fill="#a3112d"/>
<circle cx="309.30" cy="344.80" r="1.95" fill="#a3112d"/>
<line x1="323.80" y1="346.50" x2="344.60" y2="346.50" stroke="#1c1c1c" stroke-width="1.25"/>
<line x1="334.20" y1="345.00" x2="334.20" y2="348.00" stroke="#1c1c1c" stroke-width="1.25"/>
<line x1="329.00" y1="345.00" x2="339.40" y2="345.00" stroke="#1c1c1c" stroke-width="1.25"/>
<line x1="329.00" y1="348.00" x2="339.40" y2="348.00" stroke="#1c1c1c" stroke-width="1.25"/>
<rect x="325.50" y="341.70" width="3.6" height="3.6" fill="#5fa541"/>
<rect x="332.40" y="344.00" width="3.6" height="3.6" fill="#5fa541"/>
<rect x="337.70" y="341.70" width="3.6" height="3.6" fill="#5fa541"/>
<rect x="330.20" y="350.00" width="3.6" height="3.6" fill="#5fa541"/>
<rect x="334.70" y="346.40" width="3.6" height="3.6" fill="#5fa541"/>
<line x1="353.80" y1="333.40" x2="374.60" y2="333.40" stroke="#1c1c1c" stroke-width="1.25"/>
<line x1="364.20" y1="328.30" x2="364.20" y2="341.20" stroke="#1c1c1c" stroke-width="1.25"/>
<line x1="358.50" y1="328.30" x2="369.90" y2="328.30" stroke="#1c1c1c" stroke-width="1.25"/>
<line x1="358.50" y1="341.20" x2="369.90" y2="341.20" stroke="#1c1c1c" stroke-width="1.25"/>
<path d="M364.20 317.50L366.20 319.50L364.20 321.50L362.20 319.50Z" fill="#642a68"/>
<path d="M364.20 326.50L366.20 328.50L364.20 330.50L362.20 328.50Z" fill="#642a68"/>
<path d="M361.20 341.50L363.20 343.50L361.20 345.50L359.20 343.50Z" fill="#642a68"/>
<path d="M366.50 343.00L368.50 345.00L366.50 347.00L364.50 345.00Z" fill="#642a68"/>
<path d="M364.20 349.20L366.20 351.20L364.20 353.20L362.20 351.20Z" fill="#642a68"/>
<line x1="306.10" y1="324.10" x2="332.60" y2="324.10" stroke="#1c1c1c" stroke-width="1.2"/>
<text x="307.82" y="320.00" font-size="6.7" text-anchor="start" fill="#2e2e2e" stroke="#2e2e2e" stroke-width="0.1" textLength="26.27" lengthAdjust="spacingAndGlyphs" >p=0.0411</text>
<text x="268.54" y="376.90" font-size="8.4" text-anchor="start" fill="#1e1e1e" stroke="#1e1e1e" stroke-width="0.06" textLength="12.72" lengthAdjust="spacingAndGlyphs" >PBS</text>
<text x="294.59" y="376.90" font-size="8.4" text-anchor="start" fill="#1e1e1e" stroke="#1e1e1e" stroke-width="0.06" textLength="12.67" lengthAdjust="spacingAndGlyphs" >PBS</text>
<text x="316.00" y="376.90" font-size="8.4" text-anchor="start" fill="#1e1e1e" stroke="#1e1e1e" stroke-width="0.06" textLength="29.99" lengthAdjust="spacingAndGlyphs" >&#945;-CD303</text>
<text x="352.49" y="376.90" font-size="8.4" text-anchor="start" fill="#1e1e1e" stroke="#1e1e1e" stroke-width="0.06" textLength="36.01" lengthAdjust="spacingAndGlyphs" >isotype Ab</text>
<line x1="295.70" y1="383.50" x2="378.80" y2="383.50" stroke="#1c1c1c" stroke-width="1.15"/>
<text x="329.80" y="394.60" font-size="8.4" text-anchor="start" fill="#1e1e1e" stroke="#1e1e1e" stroke-width="0.06" textLength="12.61" lengthAdjust="spacingAndGlyphs" >EBV</text>
<line x1="75.75" y1="437.00" x2="75.75" y2="520.10" stroke="#1c1c1c" stroke-width="1.3"/>
<line x1="75.15" y1="519.50" x2="248.50" y2="519.50" stroke="#1c1c1c" stroke-width="1.3"/>
<line x1="71.65" y1="440.50" x2="75.75" y2="440.50" stroke="#1c1c1c" stroke-width="1.0"/>
<text x="60.06" y="443.40" font-size="8.4" text-anchor="start" fill="#1e1e1e" stroke="#1e1e1e" stroke-width="0.06" textLength="7.85" lengthAdjust="spacingAndGlyphs" >30</text>
<line x1="71.65" y1="467.00" x2="75.75" y2="467.00" stroke="#1c1c1c" stroke-width="1.0"/>
<text x="60.06" y="469.90" font-size="8.4" text-anchor="start" fill="#1e1e1e" stroke="#1e1e1e" stroke-width="0.06" textLength="7.85" lengthAdjust="spacingAndGlyphs" >20</text>
<line x1="71.65" y1="493.25" x2="75.75" y2="493.25" stroke="#1c1c1c" stroke-width="1.0"/>
<text x="60.06" y="496.15" font-size="8.4" text-anchor="start" fill="#1e1e1e" stroke="#1e1e1e" stroke-width="0.06" textLength="7.85" lengthAdjust="spacingAndGlyphs" >10</text>
<line x1="71.65" y1="519.50" x2="75.75" y2="519.50" stroke="#1c1c1c" stroke-width="1.0"/>
<text x="63.98" y="522.40" font-size="8.4" text-anchor="start" fill="#1e1e1e" stroke="#1e1e1e" stroke-width="0.06" textLength="3.92" lengthAdjust="spacingAndGlyphs" >0</text>
<text x="129.15" y="430.10" font-size="11.2" text-anchor="start" fill="#1e1e1e" stroke="#1e1e1e" stroke-width="0.06" textLength="69.29" lengthAdjust="spacingAndGlyphs" >week 5/6 blood</text>
<text transform="translate(51.20,478.75) rotate(-90)" x="0" y="0" font-size="10" text-anchor="middle" fill="#1e1e1e" stroke="#1e1e1e" stroke-width="0.06" textLength="108.00" lengthAdjust="spacingAndGlyphs">%pDCs of CD3CD19neg</text>
<line x1="81.50" y1="483.25" x2="105.10" y2="483.25" stroke="#1c1c1c" stroke-width="1.25"/>
<line x1="93.30" y1="472.50" x2="93.30" y2="494.50" stroke="#1c1c1c" stroke-width="1.25"/>
<line x1="87.10" y1="472.50" x2="99.50" y2="472.50" stroke="#1c1c1c" stroke-width="1.25"/>
<line x1="87.10" y1="494.50" x2="99.50" y2="494.50" stroke="#1c1c1c" stroke-width="1.25"/>
<circle cx="93.25" cy="448.00" r="1.8" fill="none" stroke="#646870" stroke-width="0.85"/>
<circle cx="93.25" cy="475.00" r="1.8" fill="none" stroke="#646870" stroke-width="0.85"/>
<circle cx="91.25" cy="487.50" r="1.8" fill="none" stroke="#646870" stroke-width="0.85"/>
<circle cx="95.75" cy="490.50" r="1.8" fill="none" stroke="#646870" stroke-width="0.85"/>
<circle cx="93.25" cy="515.50" r="1.8" fill="none" stroke="#646870" stroke-width="0.85"/>
<line x1="116.90" y1="514.50" x2="140.50" y2="514.50" stroke="#1c1c1c" stroke-width="1.25"/>
<line x1="128.70" y1="513.80" x2="128.70" y2="515.20" stroke="#1c1c1c" stroke-width="1.25"/>
<line x1="122.50" y1="513.80" x2="134.90" y2="513.80" stroke="#1c1c1c" stroke-width="1.25"/>
<line x1="122.50" y1="515.20" x2="134.90" y2="515.20" stroke="#1c1c1c" stroke-width="1.25"/>
<rect x="117.00" y="511.30" width="3.4" height="3.4" fill="none" stroke="#56729e" stroke-width="0.85"/>
<rect x="120.80" y="514.60" width="3.4" height="3.4" fill="none" stroke="#56729e" stroke-width="0.85"/>
<rect x="125.30" y="514.90" width="3.4" height="3.4" fill="none" stroke="#56729e" stroke-width="0.85"/>
<rect x="129.80" y="514.90" width="3.4" height="3.4" fill="none" stroke="#56729e" stroke-width="0.85"/>
<rect x="134.30" y="513.80" width="3.4" height="3.4" fill="none" stroke="#56729e" stroke-width="0.85"/>
<rect x="137.50" y="511.30" width="3.4" height="3.4" fill="none" stroke="#56729e" stroke-width="0.85"/>
<line x1="151.90" y1="510.60" x2="175.50" y2="510.60" stroke="#1c1c1c" stroke-width="1.25"/>
<line x1="163.70" y1="506.60" x2="163.70" y2="514.80" stroke="#1c1c1c" stroke-width="1.25"/>
<line x1="157.50" y1="506.60" x2="169.90" y2="506.60" stroke="#1c1c1c" stroke-width="1.25"/>
<line x1="157.50" y1="514.80" x2="169.90" y2="514.80" stroke="#1c1c1c" stroke-width="1.25"/>
<circle cx="163.70" cy="489.60" r="1.95" fill="#a3112d"/>
<circle cx="163.70" cy="500.00" r="1.95" fill="#a3112d"/>
<circle cx="163.70" cy="509.20" r="1.95" fill="#a3112d"/>
<circle cx="163.70" cy="514.20" r="1.95" fill="#a3112d"/>
<circle cx="156.80" cy="517.10" r="1.95" fill="#a3112d"/>
<circle cx="166.60" cy="518.00" r="1.95" fill="#a3112d"/>
<circle cx="171.10" cy="516.50" r="1.95" fill="#a3112d"/>
<circle cx="160.70" cy="518.50" r="1.95" fill="#a3112d"/>
<rect x="187.80" y="517.20" width="3.6" height="3.6" fill="#5fa541"/>
<rect x="190.20" y="517.50" width="3.6" height="3.6" fill="#5fa541"/>
<rect x="192.70" y="517.70" width="3.6" height="3.6" fill="#5fa541"/>
<rect x="195.20" y="517.70" width="3.6" height="3.6" fill="#5fa541"/>
<rect x="197.70" y="517.70" width="3.6" height="3.6" fill="#5fa541"/>
<rect x="200.20" y="517.70" width="3.6" height="3.6" fill="#5fa541"/>
<rect x="202.70" y="517.50" width="3.6" height="3.6" fill="#5fa541"/>
<rect x="205.20" y="517.20" width="3.6" height="3.6" fill="#5fa541"/>
<rect x="186.50" y="515.10" width="3.6" height="3.6" fill="#5fa541"/>
<rect x="207.20" y="515.70" width="3.6" height="3.6" fill="#5fa541"/>
<line x1="222.00" y1="510.60" x2="245.60" y2="510.60" stroke="#1c1c1c" stroke-width="1.25"/>
<line x1="233.80" y1="504.50" x2="233.80" y2="516.50" stroke="#1c1c1c" stroke-width="1.25"/>
<line x1="227.60" y1="504.50" x2="240.00" y2="504.50" stroke="#1c1c1c" stroke-width="1.25"/>
<line x1="227.60" y1="516.50" x2="240.00" y2="516.50" stroke="#1c1c1c" stroke-width="1.25"/>
<path d="M233.70 496.40L235.70 498.40L233.70 500.40L231.70 498.40Z" fill="#642a68"/>
<path d="M236.20 512.70L238.20 514.70L236.20 516.70L234.20 514.70Z" fill="#642a68"/>
<path d="M231.30 515.60L233.30 517.60L231.30 519.60L229.30 517.60Z" fill="#642a68"/>
<line x1="93.10" y1="443.30" x2="127.80" y2="443.30" stroke="#1c1c1c" stroke-width="1.2"/>
<text x="98.12" y="439.50" font-size="6.7" text-anchor="start" fill="#2e2e2e" stroke="#2e2e2e" stroke-width="0.1" textLength="26.73" lengthAdjust="spacingAndGlyphs" >p=0.0303</text>
<line x1="163.10" y1="482.50" x2="198.20" y2="482.50" stroke="#1c1c1c" stroke-width="1.2"/>
<text x="168.12" y="478.80" font-size="6.7" text-anchor="start" fill="#2e2e2e" stroke="#2e2e2e" stroke-width="0.1" textLength="26.70" lengthAdjust="spacingAndGlyphs" >p=0.0140</text>
<text x="87.89" y="529.65" font-size="8.4" text-anchor="start" fill="#1e1e1e" stroke="#1e1e1e" stroke-width="0.06" textLength="12.83" lengthAdjust="spacingAndGlyphs" >PBS</text>
<text x="115.50" y="529.65" font-size="8.4" text-anchor="start" fill="#1e1e1e" stroke="#1e1e1e" stroke-width="0.06" textLength="30.50" lengthAdjust="spacingAndGlyphs" >&#945;-CD303</text>
<text x="157.39" y="529.65" font-size="8.4" text-anchor="start" fill="#1e1e1e" stroke="#1e1e1e" stroke-width="0.06" textLength="12.88" lengthAdjust="spacingAndGlyphs" >PBS</text>
<text x="181.80" y="529.65" font-size="8.4" text-anchor="start" fill="#1e1e1e" stroke="#1e1e1e" stroke-width="0.06" textLength="30.50" lengthAdjust="spacingAndGlyphs" >&#945;-CD303</text>
<text x="218.99" y="529.65" font-size="8.4" text-anchor="start" fill="#1e1e1e" stroke="#1e1e1e" stroke-width="0.06" textLength="36.42" lengthAdjust="spacingAndGlyphs" >isotype Ab</text>
<line x1="152.00" y1="536.50" x2="245.40" y2="536.50" stroke="#1c1c1c" stroke-width="1.15"/>
<text x="192.60" y="547.60" font-size="8.4" text-anchor="start" fill="#1e1e1e" stroke="#1e1e1e" stroke-width="0.06" textLength="12.61" lengthAdjust="spacingAndGlyphs" >EBV</text>
<line x1="321.50" y1="437.00" x2="321.50" y2="520.30" stroke="#1c1c1c" stroke-width="1.3"/>
<line x1="320.90" y1="519.70" x2="497.00" y2="519.70" stroke="#1c1c1c" stroke-width="1.3"/>
<line x1="317.40" y1="440.50" x2="321.50" y2="440.50" stroke="#1c1c1c" stroke-width="1.0"/>
<text x="305.85" y="443.40" font-size="8.4" text-anchor="start" fill="#1e1e1e" stroke="#1e1e1e" stroke-width="0.06" textLength="7.85" lengthAdjust="spacingAndGlyphs" >15</text>
<line x1="317.40" y1="467.00" x2="321.50" y2="467.00" stroke="#1c1c1c" stroke-width="1.0"/>
<text x="305.81" y="469.90" font-size="8.4" text-anchor="start" fill="#1e1e1e" stroke="#1e1e1e" stroke-width="0.06" textLength="7.85" lengthAdjust="spacingAndGlyphs" >10</text>
<line x1="317.40" y1="493.25" x2="321.50" y2="493.25" stroke="#1c1c1c" stroke-width="1.0"/>
<text x="309.77" y="496.15" font-size="8.4" text-anchor="start" fill="#1e1e1e" stroke="#1e1e1e" stroke-width="0.06" textLength="3.92" lengthAdjust="spacingAndGlyphs" >5</text>
<line x1="317.40" y1="519.70" x2="321.50" y2="519.70" stroke="#1c1c1c" stroke-width="1.0"/>
<text x="309.73" y="522.60" font-size="8.4" text-anchor="start" fill="#1e1e1e" stroke="#1e1e1e" stroke-width="0.06" textLength="3.92" lengthAdjust="spacingAndGlyphs" >0</text>
<text x="373.35" y="430.10" font-size="11.2" text-anchor="start" fill="#1e1e1e" stroke="#1e1e1e" stroke-width="0.06" textLength="72.27" lengthAdjust="spacingAndGlyphs" >week 5/6 spleen</text>
<text transform="translate(297.50,478.75) rotate(-90)" x="0" y="0" font-size="10" text-anchor="middle" fill="#1e1e1e" stroke="#1e1e1e" stroke-width="0.06" textLength="108.00" lengthAdjust="spacingAndGlyphs">%pDCs of CD3CD19neg</text>
<line x1="327.20" y1="490.50" x2="350.80" y2="490.50" stroke="#1c1c1c" stroke-width="1.25"/>
<line x1="339.00" y1="480.50" x2="339.00" y2="500.75" stroke="#1c1c1c" stroke-width="1.25"/>
<line x1="332.80" y1="480.50" x2="345.20" y2="480.50" stroke="#1c1c1c" stroke-width="1.25"/>
<line x1="332.80" y1="500.75" x2="345.20" y2="500.75" stroke="#1c1c1c" stroke-width="1.25"/>
<circle cx="339.00" cy="451.75" r="1.8" fill="none" stroke="#646870" stroke-width="0.85"/>
<circle cx="337.00" cy="496.25" r="1.8" fill="none" stroke="#646870" stroke-width="0.85"/>
<circle cx="341.25" cy="499.50" r="1.8" fill="none" stroke="#646870" stroke-width="0.85"/>
<circle cx="339.00" cy="509.50" r="1.8" fill="none" stroke="#646870" stroke-width="0.85"/>
<line x1="362.80" y1="515.00" x2="385.80" y2="515.00" stroke="#1c1c1c" stroke-width="1.25"/>
<line x1="374.30" y1="515.00" x2="374.30" y2="515.00" stroke="#1c1c1c" stroke-width="1.25"/>
<line x1="374.30" y1="515.00" x2="374.30" y2="515.00" stroke="#1c1c1c" stroke-width="1.25"/>
<line x1="374.30" y1="515.00" x2="374.30" y2="515.00" stroke="#1c1c1c" stroke-width="1.25"/>
<rect x="372.55" y="507.80" width="3.4" height="3.4" fill="none" stroke="#56729e" stroke-width="0.85"/>
<rect x="363.00" y="515.70" width="3.4" height="3.4" fill="none" stroke="#56729e" stroke-width="0.85"/>
<rect x="366.90" y="516.10" width="3.4" height="3.4" fill="none" stroke="#56729e" stroke-width="0.85"/>
<rect x="370.80" y="516.20" width="3.4" height="3.4" fill="none" stroke="#56729e" stroke-width="0.85"/>
<rect x="374.70" y="516.20" width="3.4" height="3.4" fill="none" stroke="#56729e" stroke-width="0.85"/>
<rect x="378.60" y="516.10" width="3.4" height="3.4" fill="none" stroke="#56729e" stroke-width="0.85"/>
<rect x="382.50" y="515.70" width="3.4" height="3.4" fill="none" stroke="#56729e" stroke-width="0.85"/>
<line x1="397.40" y1="509.80" x2="421.00" y2="509.80" stroke="#1c1c1c" stroke-width="1.25"/>
<line x1="409.20" y1="507.50" x2="409.20" y2="511.80" stroke="#1c1c1c" stroke-width="1.25"/>
<line x1="403.00" y1="507.50" x2="415.40" y2="507.50" stroke="#1c1c1c" stroke-width="1.25"/>
<line x1="403.00" y1="511.80" x2="415.40" y2="511.80" stroke="#1c1c1c" stroke-width="1.25"/>
<circle cx="407.50" cy="500.80" r="1.95" fill="#a3112d"/>
<circle cx="409.40" cy="499.20" r="1.95" fill="#a3112d"/>
<circle cx="411.90" cy="505.00" r="1.95" fill="#a3112d"/>
<circle cx="399.20" cy="512.30" r="1.95" fill="#a3112d"/>
<circle cx="404.20" cy="514.20" r="1.95" fill="#a3112d"/>
<circle cx="409.40" cy="515.20" r="1.95" fill="#a3112d"/>
<circle cx="413.80" cy="514.60" r="1.95" fill="#a3112d"/>
<circle cx="418.50" cy="514.20" r="1.95" fill="#a3112d"/>
<rect x="433.20" y="517.60" width="3.6" height="3.6" fill="#5fa541"/>
<rect x="435.70" y="517.90" width="3.6" height="3.6" fill="#5fa541"/>
<rect x="438.20" y="518.10" width="3.6" height="3.6" fill="#5fa541"/>
<rect x="440.70" y="518.20" width="3.6" height="3.6" fill="#5fa541"/>
<rect x="443.20" y="518.20" width="3.6" height="3.6" fill="#5fa541"/>
<rect x="445.70" y="518.10" width="3.6" height="3.6" fill="#5fa541"/>
<rect x="448.20" y="517.90" width="3.6" height="3.6" fill="#5fa541"/>
<rect x="450.70" y="517.60" width="3.6" height="3.6" fill="#5fa541"/>
<rect x="432.40" y="516.60" width="3.6" height="3.6" fill="#5fa541"/>
<rect x="452.20" y="516.60" width="3.6" height="3.6" fill="#5fa541"/>
<line x1="467.60" y1="503.70" x2="491.20" y2="503.70" stroke="#1c1c1c" stroke-width="1.25"/>
<line x1="479.40" y1="495.40" x2="479.40" y2="511.40" stroke="#1c1c1c" stroke-width="1.25"/>
<line x1="473.20" y1="495.40" x2="485.60" y2="495.40" stroke="#1c1c1c" stroke-width="1.25"/>
<line x1="473.20" y1="511.40" x2="485.60" y2="511.40" stroke="#1c1c1c" stroke-width="1.25"/>
<path d="M479.40 487.20L481.40 489.20L479.40 491.20L477.40 489.20Z" fill="#642a68"/>
<path d="M479.40 503.50L481.40 505.50L479.40 507.50L477.40 505.50Z" fill="#642a68"/>
<path d="M479.40 514.30L481.40 516.30L479.40 518.30L477.40 516.30Z" fill="#642a68"/>
<line x1="338.10" y1="446.30" x2="373.50" y2="446.30" stroke="#1c1c1c" stroke-width="1.2"/>
<text x="343.82" y="442.50" font-size="6.7" text-anchor="start" fill="#2e2e2e" stroke="#2e2e2e" stroke-width="0.1" textLength="26.76" lengthAdjust="spacingAndGlyphs" >p=0.0087</text>
<line x1="409.10" y1="494.00" x2="444.50" y2="494.00" stroke="#1c1c1c" stroke-width="1.2"/>
<text x="414.51" y="490.50" font-size="6.7" text-anchor="start" fill="#2e2e2e" stroke="#2e2e2e" stroke-width="0.1" textLength="27.04" lengthAdjust="spacingAndGlyphs" >p=0.0003</text>
<text x="333.70" y="529.65" font-size="8.4" text-anchor="start" fill="#1e1e1e" stroke="#1e1e1e" stroke-width="0.06" textLength="12.51" lengthAdjust="spacingAndGlyphs" >PBS</text>
<text x="360.80" y="529.65" font-size="8.4" text-anchor="start" fill="#1e1e1e" stroke="#1e1e1e" stroke-width="0.06" textLength="30.30" lengthAdjust="spacingAndGlyphs" >&#945;-CD303</text>
<text x="402.39" y="529.65" font-size="8.4" text-anchor="start" fill="#1e1e1e" stroke="#1e1e1e" stroke-width="0.06" textLength="12.88" lengthAdjust="spacingAndGlyphs" >PBS</text>
<text x="426.80" y="529.65" font-size="8.4" text-anchor="start" fill="#1e1e1e" stroke="#1e1e1e" stroke-width="0.06" textLength="30.50" lengthAdjust="spacingAndGlyphs" >&#945;-CD303</text>
<text x="464.48" y="529.65" font-size="8.4" text-anchor="start" fill="#1e1e1e" stroke="#1e1e1e" stroke-width="0.06" textLength="36.73" lengthAdjust="spacingAndGlyphs" >isotype Ab</text>
<line x1="397.50" y1="536.50" x2="490.80" y2="536.50" stroke="#1c1c1c" stroke-width="1.15"/>
<text x="438.10" y="547.60" font-size="8.4" text-anchor="start" fill="#1e1e1e" stroke="#1e1e1e" stroke-width="0.06" textLength="12.61" lengthAdjust="spacingAndGlyphs" >EBV</text>
<line x1="75.75" y1="577.50" x2="75.75" y2="660.60" stroke="#1c1c1c" stroke-width="1.3"/>
<line x1="75.15" y1="660.00" x2="248.50" y2="660.00" stroke="#1c1c1c" stroke-width="1.3"/>
<line x1="71.65" y1="581.00" x2="75.75" y2="581.00" stroke="#1c1c1c" stroke-width="1.0"/>
<text x="60.06" y="583.90" font-size="8.4" text-anchor="start" fill="#1e1e1e" stroke="#1e1e1e" stroke-width="0.06" textLength="7.85" lengthAdjust="spacingAndGlyphs" >40</text>
<line x1="71.65" y1="600.75" x2="75.75" y2="600.75" stroke="#1c1c1c" stroke-width="1.0"/>
<text x="60.06" y="603.65" font-size="8.4" text-anchor="start" fill="#1e1e1e" stroke="#1e1e1e" stroke-width="0.06" textLength="7.85" lengthAdjust="spacingAndGlyphs" >30</text>
<line x1="71.65" y1="620.75" x2="75.75" y2="620.75" stroke="#1c1c1c" stroke-width="1.0"/>
<text x="60.06" y="623.65" font-size="8.4" text-anchor="start" fill="#1e1e1e" stroke="#1e1e1e" stroke-width="0.06" textLength="7.85" lengthAdjust="spacingAndGlyphs" >20</text>
<line x1="71.65" y1="640.50" x2="75.75" y2="640.50" stroke="#1c1c1c" stroke-width="1.0"/>
<text x="60.06" y="643.40" font-size="8.4" text-anchor="start" fill="#1e1e1e" stroke="#1e1e1e" stroke-width="0.06" textLength="7.85" lengthAdjust="spacingAndGlyphs" >10</text>
<line x1="71.65" y1="660.00" x2="75.75" y2="660.00" stroke="#1c1c1c" stroke-width="1.0"/>
<text x="63.98" y="662.90" font-size="8.4" text-anchor="start" fill="#1e1e1e" stroke="#1e1e1e" stroke-width="0.06" textLength="3.92" lengthAdjust="spacingAndGlyphs" >0</text>
<text x="111.85" y="570.20" font-size="11.2" text-anchor="start" fill="#1e1e1e" stroke="#1e1e1e" stroke-width="0.06" textLength="103.61" lengthAdjust="spacingAndGlyphs" >week 5/6 bone marrow</text>
<text transform="translate(52.40,618.75) rotate(-90)" x="0" y="0" font-size="10" text-anchor="middle" fill="#1e1e1e" stroke="#1e1e1e" stroke-width="0.06" textLength="108.00" lengthAdjust="spacingAndGlyphs">%pDCs of CD3CD19neg</text>
<line x1="81.70" y1="647.40" x2="105.30" y2="647.40" stroke="#1c1c1c" stroke-width="1.25"/>
<line x1="93.50" y1="644.50" x2="93.50" y2="649.90" stroke="#1c1c1c" stroke-width="1.25"/>
<line x1="87.30" y1="644.50" x2="99.70" y2="644.50" stroke="#1c1c1c" stroke-width="1.25"/>
<line x1="87.30" y1="649.90" x2="99.70" y2="649.90" stroke="#1c1c1c" stroke-width="1.25"/>
<circle cx="93.50" cy="640.40" r="1.8" fill="none" stroke="#646870" stroke-width="0.85"/>
<circle cx="89.60" cy="646.60" r="1.8" fill="none" stroke="#646870" stroke-width="0.85"/>
<circle cx="97.40" cy="646.60" r="1.8" fill="none" stroke="#646870" stroke-width="0.85"/>
<circle cx="93.50" cy="655.40" r="1.8" fill="none" stroke="#646870" stroke-width="0.85"/>
<line x1="116.80" y1="631.00" x2="140.40" y2="631.00" stroke="#1c1c1c" stroke-width="1.25"/>
<line x1="128.60" y1="629.20" x2="128.60" y2="634.30" stroke="#1c1c1c" stroke-width="1.25"/>
<line x1="122.40" y1="629.20" x2="134.80" y2="629.20" stroke="#1c1c1c" stroke-width="1.25"/>
<line x1="122.40" y1="634.30" x2="134.80" y2="634.30" stroke="#1c1c1c" stroke-width="1.25"/>
<rect x="129.20" y="621.90" width="3.4" height="3.4" fill="none" stroke="#56729e" stroke-width="0.85"/>
<rect x="124.30" y="625.60" width="3.4" height="3.4" fill="none" stroke="#56729e" stroke-width="0.85"/>
<rect x="122.80" y="629.60" width="3.4" height="3.4" fill="none" stroke="#56729e" stroke-width="0.85"/>
<rect x="129.80" y="628.80" width="3.4" height="3.4" fill="none" stroke="#56729e" stroke-width="0.85"/>
<rect x="126.80" y="631.80" width="3.4" height="3.4" fill="none" stroke="#56729e" stroke-width="0.85"/>
<rect x="127.00" y="640.00" width="3.4" height="3.4" fill="none" stroke="#56729e" stroke-width="0.85"/>
<line x1="151.80" y1="640.20" x2="175.40" y2="640.20" stroke="#1c1c1c" stroke-width="1.25"/>
<line x1="163.60" y1="636.00" x2="163.60" y2="643.90" stroke="#1c1c1c" stroke-width="1.25"/>
<line x1="157.40" y1="636.00" x2="169.80" y2="636.00" stroke="#1c1c1c" stroke-width="1.25"/>
<line x1="157.40" y1="643.90" x2="169.80" y2="643.90" stroke="#1c1c1c" stroke-width="1.25"/>
<circle cx="163.60" cy="619.20" r="1.95" fill="#a3112d"/>
<circle cx="163.60" cy="624.60" r="1.95" fill="#a3112d"/>
<circle cx="163.50" cy="640.20" r="1.95" fill="#a3112d"/>
<circle cx="158.90" cy="643.70" r="1.95" fill="#a3112d"/>
<circle cx="168.30" cy="643.40" r="1.95" fill="#a3112d"/>
<circle cx="163.50" cy="646.10" r="1.95" fill="#a3112d"/>
<circle cx="160.80" cy="654.60" r="1.95" fill="#a3112d"/>
<circle cx="165.80" cy="652.00" r="1.95" fill="#a3112d"/>
<line x1="187.10" y1="636.00" x2="210.70" y2="636.00" stroke="#1c1c1c" stroke-width="1.25"/>
<line x1="198.90" y1="628.30" x2="198.90" y2="644.50" stroke="#1c1c1c" stroke-width="1.25"/>
<line x1="192.70" y1="628.30" x2="205.10" y2="628.30" stroke="#1c1c1c" stroke-width="1.25"/>
<line x1="192.70" y1="644.50" x2="205.10" y2="644.50" stroke="#1c1c1c" stroke-width="1.25"/>
<rect x="197.10" y="601.90" width="3.6" height="3.6" fill="#5fa541"/>
<rect x="197.10" y="607.70" width="3.6" height="3.6" fill="#5fa541"/>
<rect x="197.10" y="635.60" width="3.6" height="3.6" fill="#5fa541"/>
<rect x="196.10" y="642.70" width="3.6" height="3.6" fill="#5fa541"/>
<rect x="194.70" y="645.70" width="3.6" height="3.6" fill="#5fa541"/>
<rect x="199.40" y="650.20" width="3.6" height="3.6" fill="#5fa541"/>
<rect x="197.10" y="658.30" width="3.6" height="3.6" fill="#5fa541"/>
<line x1="221.70" y1="644.00" x2="245.30" y2="644.00" stroke="#1c1c1c" stroke-width="1.25"/>
<line x1="233.50" y1="640.90" x2="233.50" y2="647.40" stroke="#1c1c1c" stroke-width="1.25"/>
<line x1="227.30" y1="640.90" x2="239.70" y2="640.90" stroke="#1c1c1c" stroke-width="1.25"/>
<line x1="227.30" y1="647.40" x2="239.70" y2="647.40" stroke="#1c1c1c" stroke-width="1.25"/>
<path d="M233.70 635.50L235.70 637.50L233.70 639.50L231.70 637.50Z" fill="#642a68"/>
<path d="M236.50 642.90L238.50 644.90L236.50 646.90L234.50 644.90Z" fill="#642a68"/>
<path d="M231.40 647.20L233.40 649.20L231.40 651.20L229.40 649.20Z" fill="#642a68"/>
<text x="90.09" y="669.75" font-size="8.4" text-anchor="start" fill="#1e1e1e" stroke="#1e1e1e" stroke-width="0.06" textLength="12.88" lengthAdjust="spacingAndGlyphs" >PBS</text>
<text x="117.90" y="669.75" font-size="8.4" text-anchor="start" fill="#1e1e1e" stroke="#1e1e1e" stroke-width="0.06" textLength="30.30" lengthAdjust="spacingAndGlyphs" >&#945;-CD303</text>
<text x="159.57" y="669.75" font-size="8.4" text-anchor="start" fill="#1e1e1e" stroke="#1e1e1e" stroke-width="0.06" textLength="13.20" lengthAdjust="spacingAndGlyphs" >PBS</text>
<text x="183.80" y="669.75" font-size="8.4" text-anchor="start" fill="#1e1e1e" stroke="#1e1e1e" stroke-width="0.06" textLength="29.68" lengthAdjust="spacingAndGlyphs" >&#945;-CD303</text>
<text x="221.60" y="669.75" font-size="8.4" text-anchor="start" fill="#1e1e1e" stroke="#1e1e1e" stroke-width="0.06" textLength="35.30" lengthAdjust="spacingAndGlyphs" >isotype Ab</text>
<line x1="151.60" y1="676.60" x2="245.20" y2="676.60" stroke="#1c1c1c" stroke-width="1.15"/>
<text x="192.00" y="687.70" font-size="8.4" text-anchor="start" fill="#1e1e1e" stroke="#1e1e1e" stroke-width="0.06" textLength="12.61" lengthAdjust="spacingAndGlyphs" >EBV</text>
<line x1="321.50" y1="578.00" x2="321.50" y2="660.60" stroke="#1c1c1c" stroke-width="1.3"/>
<line x1="320.90" y1="660.00" x2="496.50" y2="660.00" stroke="#1c1c1c" stroke-width="1.3"/>
<line x1="317.40" y1="581.25" x2="321.50" y2="581.25" stroke="#1c1c1c" stroke-width="1.0"/>
<text x="305.85" y="584.15" font-size="8.4" text-anchor="start" fill="#1e1e1e" stroke="#1e1e1e" stroke-width="0.06" textLength="7.85" lengthAdjust="spacingAndGlyphs" >15</text>
<line x1="317.40" y1="607.50" x2="321.50" y2="607.50" stroke="#1c1c1c" stroke-width="1.0"/>
<text x="305.81" y="610.40" font-size="8.4" text-anchor="start" fill="#1e1e1e" stroke="#1e1e1e" stroke-width="0.06" textLength="7.85" lengthAdjust="spacingAndGlyphs" >10</text>
<line x1="317.40" y1="633.75" x2="321.50" y2="633.75" stroke="#1c1c1c" stroke-width="1.0"/>
<text x="309.77" y="636.65" font-size="8.4" text-anchor="start" fill="#1e1e1e" stroke="#1e1e1e" stroke-width="0.06" textLength="3.92" lengthAdjust="spacingAndGlyphs" >5</text>
<line x1="317.40" y1="660.00" x2="321.50" y2="660.00" stroke="#1c1c1c" stroke-width="1.0"/>
<text x="309.73" y="662.90" font-size="8.4" text-anchor="start" fill="#1e1e1e" stroke="#1e1e1e" stroke-width="0.06" textLength="3.92" lengthAdjust="spacingAndGlyphs" >0</text>
<text x="358.75" y="570.20" font-size="11.2" text-anchor="start" fill="#1e1e1e" stroke="#1e1e1e" stroke-width="0.06" textLength="101.01" lengthAdjust="spacingAndGlyphs" >week 5/6 lymph nodes</text>
<text transform="translate(297.50,618.75) rotate(-90)" x="0" y="0" font-size="10" text-anchor="middle" fill="#1e1e1e" stroke="#1e1e1e" stroke-width="0.06" textLength="108.00" lengthAdjust="spacingAndGlyphs">%pDCs of CD3CD19neg</text>
<line x1="327.20" y1="644.50" x2="350.80" y2="644.50" stroke="#1c1c1c" stroke-width="1.25"/>
<line x1="339.00" y1="632.50" x2="339.00" y2="657.00" stroke="#1c1c1c" stroke-width="1.25"/>
<line x1="332.80" y1="632.50" x2="345.20" y2="632.50" stroke="#1c1c1c" stroke-width="1.25"/>
<line x1="332.80" y1="657.00" x2="345.20" y2="657.00" stroke="#1c1c1c" stroke-width="1.25"/>
<circle cx="339.00" cy="596.75" r="1.8" fill="none" stroke="#646870" stroke-width="0.85"/>
<circle cx="337.00" cy="652.00" r="1.8" fill="none" stroke="#646870" stroke-width="0.85"/>
<circle cx="341.25" cy="653.25" r="1.8" fill="none" stroke="#646870" stroke-width="0.85"/>
<circle cx="337.00" cy="659.50" r="1.8" fill="none" stroke="#646870" stroke-width="0.85"/>
<circle cx="341.25" cy="659.50" r="1.8" fill="none" stroke="#646870" stroke-width="0.85"/>
<line x1="363.00" y1="659.20" x2="385.00" y2="659.20" stroke="#1c1c1c" stroke-width="1.25"/>
<line x1="374.00" y1="659.20" x2="374.00" y2="659.20" stroke="#1c1c1c" stroke-width="1.25"/>
<line x1="374.00" y1="659.20" x2="374.00" y2="659.20" stroke="#1c1c1c" stroke-width="1.25"/>
<line x1="374.00" y1="659.20" x2="374.00" y2="659.20" stroke="#1c1c1c" stroke-width="1.25"/>
<rect x="362.00" y="656.90" width="3.4" height="3.4" fill="none" stroke="#56729e" stroke-width="0.85"/>
<rect x="382.20" y="655.50" width="3.4" height="3.4" fill="none" stroke="#56729e" stroke-width="0.85"/>
<rect x="365.90" y="658.10" width="3.4" height="3.4" fill="none" stroke="#56729e" stroke-width="0.85"/>
<rect x="369.70" y="658.30" width="3.4" height="3.4" fill="none" stroke="#56729e" stroke-width="0.85"/>
<rect x="373.50" y="658.30" width="3.4" height="3.4" fill="none" stroke="#56729e" stroke-width="0.85"/>
<rect x="377.30" y="658.10" width="3.4" height="3.4" fill="none" stroke="#56729e" stroke-width="0.85"/>
<line x1="397.40" y1="654.50" x2="421.00" y2="654.50" stroke="#1c1c1c" stroke-width="1.25"/>
<line x1="409.20" y1="652.20" x2="409.20" y2="656.80" stroke="#1c1c1c" stroke-width="1.25"/>
<line x1="403.00" y1="652.20" x2="415.40" y2="652.20" stroke="#1c1c1c" stroke-width="1.25"/>
<line x1="403.00" y1="656.80" x2="415.40" y2="656.80" stroke="#1c1c1c" stroke-width="1.25"/>
<circle cx="406.80" cy="645.80" r="1.95" fill="#a3112d"/>
<circle cx="411.50" cy="643.10" r="1.95" fill="#a3112d"/>
<circle cx="399.80" cy="656.30" r="1.95" fill="#a3112d"/>
<circle cx="409.10" cy="654.50" r="1.95" fill="#a3112d"/>
<circle cx="404.50" cy="659.20" r="1.95" fill="#a3112d"/>
<circle cx="409.10" cy="660.30" r="1.95" fill="#a3112d"/>
<circle cx="413.80" cy="659.50" r="1.95" fill="#a3112d"/>
<circle cx="418.50" cy="658.60" r="1.95" fill="#a3112d"/>
<rect x="432.80" y="658.00" width="3.6" height="3.6" fill="#5fa541"/>
<rect x="435.40" y="658.10" width="3.6" height="3.6" fill="#5fa541"/>
<rect x="438.00" y="658.20" width="3.6" height="3.6" fill="#5fa541"/>
<rect x="440.60" y="658.20" width="3.6" height="3.6" fill="#5fa541"/>
<rect x="443.20" y="658.20" width="3.6" height="3.6" fill="#5fa541"/>
<rect x="445.80" y="658.20" width="3.6" height="3.6" fill="#5fa541"/>
<rect x="448.40" y="658.10" width="3.6" height="3.6" fill="#5fa541"/>
<rect x="451.00" y="658.00" width="3.6" height="3.6" fill="#5fa541"/>
<line x1="467.40" y1="656.30" x2="491.00" y2="656.30" stroke="#1c1c1c" stroke-width="1.25"/>
<line x1="479.20" y1="654.10" x2="479.20" y2="658.80" stroke="#1c1c1c" stroke-width="1.25"/>
<line x1="473.00" y1="654.10" x2="485.40" y2="654.10" stroke="#1c1c1c" stroke-width="1.25"/>
<line x1="473.00" y1="658.80" x2="485.40" y2="658.80" stroke="#1c1c1c" stroke-width="1.25"/>
<path d="M479.10 649.80L481.10 651.80L479.10 653.80L477.10 651.80Z" fill="#642a68"/>
<path d="M482.00 655.30L484.00 657.30L482.00 659.30L480.00 657.30Z" fill="#642a68"/>
<path d="M476.70 658.20L478.70 660.20L476.70 662.20L474.70 660.20Z" fill="#642a68"/>
<line x1="409.10" y1="634.50" x2="444.50" y2="634.50" stroke="#1c1c1c" stroke-width="1.2"/>
<text x="414.52" y="630.80" font-size="6.7" text-anchor="start" fill="#2e2e2e" stroke="#2e2e2e" stroke-width="0.1" textLength="26.35" lengthAdjust="spacingAndGlyphs" >p=0.0051</text>
<text x="333.70" y="669.80" font-size="8.4" text-anchor="start" fill="#1e1e1e" stroke="#1e1e1e" stroke-width="0.06" textLength="12.51" lengthAdjust="spacingAndGlyphs" >PBS</text>
<text x="360.80" y="669.80" font-size="8.4" text-anchor="start" fill="#1e1e1e" stroke="#1e1e1e" stroke-width="0.06" textLength="30.30" lengthAdjust="spacingAndGlyphs" >&#945;-CD303</text>
<text x="402.39" y="669.80" font-size="8.4" text-anchor="start" fill="#1e1e1e" stroke="#1e1e1e" stroke-width="0.06" textLength="12.88" lengthAdjust="spacingAndGlyphs" >PBS</text>
<text x="426.80" y="669.80" font-size="8.4" text-anchor="start" fill="#1e1e1e" stroke="#1e1e1e" stroke-width="0.06" textLength="30.50" lengthAdjust="spacingAndGlyphs" >&#945;-CD303</text>
<text x="464.48" y="669.80" font-size="8.4" text-anchor="start" fill="#1e1e1e" stroke="#1e1e1e" stroke-width="0.06" textLength="36.73" lengthAdjust="spacingAndGlyphs" >isotype Ab</text>
<line x1="397.40" y1="676.60" x2="490.60" y2="676.60" stroke="#1c1c1c" stroke-width="1.15"/>
<text x="438.10" y="687.70" font-size="8.4" text-anchor="start" fill="#1e1e1e" stroke="#1e1e1e" stroke-width="0.06" textLength="12.61" lengthAdjust="spacingAndGlyphs" >EBV</text>
<line x1="75.75" y1="730.00" x2="75.75" y2="813.60" stroke="#1c1c1c" stroke-width="1.3"/>
<line x1="75.15" y1="813.00" x2="252.50" y2="813.00" stroke="#1c1c1c" stroke-width="1.3"/>
<line x1="71.65" y1="734.25" x2="75.75" y2="734.25" stroke="#1c1c1c" stroke-width="1.0"/>
<text x="54.21" y="737.15" font-size="8.4" text-anchor="start" fill="#1e1e1e" stroke="#1e1e1e" stroke-width="0.06" textLength="13.73" lengthAdjust="spacingAndGlyphs" >0.25</text>
<line x1="71.65" y1="750.00" x2="75.75" y2="750.00" stroke="#1c1c1c" stroke-width="1.0"/>
<text x="54.17" y="752.90" font-size="8.4" text-anchor="start" fill="#1e1e1e" stroke="#1e1e1e" stroke-width="0.06" textLength="13.73" lengthAdjust="spacingAndGlyphs" >0.20</text>
<line x1="71.65" y1="765.75" x2="75.75" y2="765.75" stroke="#1c1c1c" stroke-width="1.0"/>
<text x="54.21" y="768.65" font-size="8.4" text-anchor="start" fill="#1e1e1e" stroke="#1e1e1e" stroke-width="0.06" textLength="13.73" lengthAdjust="spacingAndGlyphs" >0.15</text>
<line x1="71.65" y1="781.50" x2="75.75" y2="781.50" stroke="#1c1c1c" stroke-width="1.0"/>
<text x="54.17" y="784.40" font-size="8.4" text-anchor="start" fill="#1e1e1e" stroke="#1e1e1e" stroke-width="0.06" textLength="13.73" lengthAdjust="spacingAndGlyphs" >0.10</text>
<line x1="71.65" y1="797.00" x2="75.75" y2="797.00" stroke="#1c1c1c" stroke-width="1.0"/>
<text x="54.21" y="799.90" font-size="8.4" text-anchor="start" fill="#1e1e1e" stroke="#1e1e1e" stroke-width="0.06" textLength="13.73" lengthAdjust="spacingAndGlyphs" >0.05</text>
<line x1="71.65" y1="813.00" x2="75.75" y2="813.00" stroke="#1c1c1c" stroke-width="1.0"/>
<text x="54.17" y="815.90" font-size="8.4" text-anchor="start" fill="#1e1e1e" stroke="#1e1e1e" stroke-width="0.06" textLength="13.73" lengthAdjust="spacingAndGlyphs" >0.00</text>
<text x="128.85" y="723.00" font-size="11.2" text-anchor="start" fill="#1e1e1e" stroke="#1e1e1e" stroke-width="0.06" textLength="69.59" lengthAdjust="spacingAndGlyphs" >week 5/6 blood</text>
<text transform="translate(33.20,771.25) rotate(-90)" x="0" y="0" font-size="10" text-anchor="middle" fill="#1e1e1e" stroke="#1e1e1e" stroke-width="0.06" textLength="47.50" lengthAdjust="spacingAndGlyphs">Total pDCs</text>
<text transform="translate(45.3,771.9) rotate(-90)" x="0" y="0" font-size="10" text-anchor="middle" fill="#1e1e1e" stroke="#1e1e1e" stroke-width="0.06" textLength="113.75" lengthAdjust="spacingAndGlyphs">(10<tspan font-size="6.5" dy="-4">6</tspan><tspan dy="4"> per ml whole blood)</tspan></text>
<line x1="81.50" y1="788.25" x2="105.10" y2="788.25" stroke="#1c1c1c" stroke-width="1.25"/>
<line x1="93.30" y1="777.25" x2="93.30" y2="799.00" stroke="#1c1c1c" stroke-width="1.25"/>
<line x1="87.10" y1="777.25" x2="99.50" y2="777.25" stroke="#1c1c1c" stroke-width="1.25"/>
<line x1="87.10" y1="799.00" x2="99.50" y2="799.00" stroke="#1c1c1c" stroke-width="1.25"/>
<circle cx="93.25" cy="747.00" r="1.8" fill="none" stroke="#646870" stroke-width="0.85"/>
<circle cx="93.25" cy="787.00" r="1.8" fill="none" stroke="#646870" stroke-width="0.85"/>
<circle cx="93.25" cy="794.25" r="1.8" fill="none" stroke="#646870" stroke-width="0.85"/>
<circle cx="93.25" cy="800.00" r="1.8" fill="none" stroke="#646870" stroke-width="0.85"/>
<circle cx="93.25" cy="810.50" r="1.8" fill="none" stroke="#646870" stroke-width="0.85"/>
<line x1="116.70" y1="811.00" x2="140.30" y2="811.00" stroke="#1c1c1c" stroke-width="1.25"/>
<line x1="128.50" y1="810.50" x2="128.50" y2="811.50" stroke="#1c1c1c" stroke-width="1.25"/>
<line x1="122.30" y1="810.50" x2="134.70" y2="810.50" stroke="#1c1c1c" stroke-width="1.25"/>
<line x1="122.30" y1="811.50" x2="134.70" y2="811.50" stroke="#1c1c1c" stroke-width="1.25"/>
<rect x="115.80" y="808.60" width="3.4" height="3.4" fill="none" stroke="#56729e" stroke-width="0.85"/>
<rect x="119.80" y="808.80" width="3.4" height="3.4" fill="none" stroke="#56729e" stroke-width="0.85"/>
<rect x="123.80" y="808.80" width="3.4" height="3.4" fill="none" stroke="#56729e" stroke-width="0.85"/>
<rect x="127.80" y="808.80" width="3.4" height="3.4" fill="none" stroke="#56729e" stroke-width="0.85"/>
<rect x="131.80" y="808.80" width="3.4" height="3.4" fill="none" stroke="#56729e" stroke-width="0.85"/>
<rect x="136.80" y="807.60" width="3.4" height="3.4" fill="none" stroke="#56729e" stroke-width="0.85"/>
<line x1="151.80" y1="807.70" x2="175.40" y2="807.70" stroke="#1c1c1c" stroke-width="1.25"/>
<line x1="163.60" y1="805.40" x2="163.60" y2="809.70" stroke="#1c1c1c" stroke-width="1.25"/>
<line x1="157.40" y1="805.40" x2="169.80" y2="805.40" stroke="#1c1c1c" stroke-width="1.25"/>
<line x1="157.40" y1="809.70" x2="169.80" y2="809.70" stroke="#1c1c1c" stroke-width="1.25"/>
<circle cx="161.30" cy="800.10" r="1.95" fill="#a3112d"/>
<circle cx="166.00" cy="797.50" r="1.95" fill="#a3112d"/>
<circle cx="163.30" cy="806.40" r="1.95" fill="#a3112d"/>
<circle cx="154.90" cy="809.90" r="1.95" fill="#a3112d"/>
<circle cx="158.80" cy="810.90" r="1.95" fill="#a3112d"/>
<circle cx="163.70" cy="812.30" r="1.95" fill="#a3112d"/>
<circle cx="168.20" cy="810.70" r="1.95" fill="#a3112d"/>
<circle cx="172.50" cy="809.90" r="1.95" fill="#a3112d"/>
<rect x="187.80" y="810.80" width="3.6" height="3.6" fill="#5fa541"/>
<rect x="190.40" y="811.10" width="3.6" height="3.6" fill="#5fa541"/>
<rect x="193.00" y="811.20" width="3.6" height="3.6" fill="#5fa541"/>
<rect x="195.60" y="811.20" width="3.6" height="3.6" fill="#5fa541"/>
<rect x="198.20" y="811.20" width="3.6" height="3.6" fill="#5fa541"/>
<rect x="200.80" y="811.20" width="3.6" height="3.6" fill="#5fa541"/>
<rect x="203.40" y="811.10" width="3.6" height="3.6" fill="#5fa541"/>
<rect x="206.00" y="810.80" width="3.6" height="3.6" fill="#5fa541"/>
<rect x="187.00" y="808.40" width="3.6" height="3.6" fill="#5fa541"/>
<rect x="207.20" y="810.00" width="3.6" height="3.6" fill="#5fa541"/>
<line x1="221.70" y1="799.90" x2="245.30" y2="799.90" stroke="#1c1c1c" stroke-width="1.25"/>
<line x1="233.50" y1="791.10" x2="233.50" y2="809.00" stroke="#1c1c1c" stroke-width="1.25"/>
<line x1="227.30" y1="791.10" x2="239.70" y2="791.10" stroke="#1c1c1c" stroke-width="1.25"/>
<line x1="227.30" y1="809.00" x2="239.70" y2="809.00" stroke="#1c1c1c" stroke-width="1.25"/>
<path d="M233.70 780.50L235.70 782.50L233.70 784.50L231.70 782.50Z" fill="#642a68"/>
<path d="M236.20 805.00L238.20 807.00L236.20 809.00L234.20 807.00Z" fill="#642a68"/>
<path d="M231.30 808.90L233.30 810.90L231.30 812.90L229.30 810.90Z" fill="#642a68"/>
<line x1="162.10" y1="790.50" x2="197.50" y2="790.50" stroke="#1c1c1c" stroke-width="1.2"/>
<text x="167.52" y="786.80" font-size="6.7" text-anchor="start" fill="#2e2e2e" stroke="#2e2e2e" stroke-width="0.1" textLength="26.29" lengthAdjust="spacingAndGlyphs" >p=0.0140</text>
<text x="87.89" y="823.15" font-size="8.4" text-anchor="start" fill="#1e1e1e" stroke="#1e1e1e" stroke-width="0.06" textLength="12.83" lengthAdjust="spacingAndGlyphs" >PBS</text>
<text x="115.50" y="823.15" font-size="8.4" text-anchor="start" fill="#1e1e1e" stroke="#1e1e1e" stroke-width="0.06" textLength="30.50" lengthAdjust="spacingAndGlyphs" >&#945;-CD303</text>
<text x="157.39" y="823.15" font-size="8.4" text-anchor="start" fill="#1e1e1e" stroke="#1e1e1e" stroke-width="0.06" textLength="12.88" lengthAdjust="spacingAndGlyphs" >PBS</text>
<text x="181.80" y="823.15" font-size="8.4" text-anchor="start" fill="#1e1e1e" stroke="#1e1e1e" stroke-width="0.06" textLength="30.50" lengthAdjust="spacingAndGlyphs" >&#945;-CD303</text>
<text x="218.99" y="823.15" font-size="8.4" text-anchor="start" fill="#1e1e1e" stroke="#1e1e1e" stroke-width="0.06" textLength="36.42" lengthAdjust="spacingAndGlyphs" >isotype Ab</text>
<line x1="149.80" y1="829.50" x2="243.60" y2="829.50" stroke="#1c1c1c" stroke-width="1.15"/>
<text x="189.80" y="840.60" font-size="8.4" text-anchor="start" fill="#1e1e1e" stroke="#1e1e1e" stroke-width="0.06" textLength="12.61" lengthAdjust="spacingAndGlyphs" >EBV</text>
<line x1="321.70" y1="731.50" x2="321.70" y2="813.10" stroke="#1c1c1c" stroke-width="1.3"/>
<line x1="321.10" y1="812.50" x2="493.80" y2="812.50" stroke="#1c1c1c" stroke-width="1.3"/>
<line x1="317.60" y1="735.40" x2="321.70" y2="735.40" stroke="#1c1c1c" stroke-width="1.0"/>
<text x="300.16" y="738.30" font-size="8.4" text-anchor="start" fill="#1e1e1e" stroke="#1e1e1e" stroke-width="0.06" textLength="13.73" lengthAdjust="spacingAndGlyphs" >0.25</text>
<line x1="317.60" y1="751.00" x2="321.70" y2="751.00" stroke="#1c1c1c" stroke-width="1.0"/>
<text x="300.12" y="753.90" font-size="8.4" text-anchor="start" fill="#1e1e1e" stroke="#1e1e1e" stroke-width="0.06" textLength="13.73" lengthAdjust="spacingAndGlyphs" >0.20</text>
<line x1="317.60" y1="766.60" x2="321.70" y2="766.60" stroke="#1c1c1c" stroke-width="1.0"/>
<text x="300.16" y="769.50" font-size="8.4" text-anchor="start" fill="#1e1e1e" stroke="#1e1e1e" stroke-width="0.06" textLength="13.73" lengthAdjust="spacingAndGlyphs" >0.15</text>
<line x1="317.60" y1="781.90" x2="321.70" y2="781.90" stroke="#1c1c1c" stroke-width="1.0"/>
<text x="300.12" y="784.80" font-size="8.4" text-anchor="start" fill="#1e1e1e" stroke="#1e1e1e" stroke-width="0.06" textLength="13.73" lengthAdjust="spacingAndGlyphs" >0.10</text>
<line x1="317.60" y1="797.20" x2="321.70" y2="797.20" stroke="#1c1c1c" stroke-width="1.0"/>
<text x="300.16" y="800.10" font-size="8.4" text-anchor="start" fill="#1e1e1e" stroke="#1e1e1e" stroke-width="0.06" textLength="13.73" lengthAdjust="spacingAndGlyphs" >0.05</text>
<line x1="317.60" y1="812.50" x2="321.70" y2="812.50" stroke="#1c1c1c" stroke-width="1.0"/>
<text x="300.12" y="815.40" font-size="8.4" text-anchor="start" fill="#1e1e1e" stroke="#1e1e1e" stroke-width="0.06" textLength="13.73" lengthAdjust="spacingAndGlyphs" >0.00</text>
<text x="371.25" y="724.40" font-size="11.2" text-anchor="start" fill="#1e1e1e" stroke="#1e1e1e" stroke-width="0.06" textLength="72.68" lengthAdjust="spacingAndGlyphs" >week 5/6 spleen</text>
<text transform="translate(278.30,772.40) rotate(-90)" x="0" y="0" font-size="10" text-anchor="middle" fill="#1e1e1e" stroke="#1e1e1e" stroke-width="0.06" textLength="48.00" lengthAdjust="spacingAndGlyphs">Total pDCs</text>
<text transform="translate(291.4,773) rotate(-90)" x="0" y="0" font-size="10" text-anchor="middle" fill="#1e1e1e" stroke="#1e1e1e" stroke-width="0.06" textLength="72.7" lengthAdjust="spacingAndGlyphs">(10<tspan font-size="6.5" dy="-4">6</tspan><tspan dy="4"> per spleen)</tspan></text>
<line x1="327.00" y1="792.80" x2="350.60" y2="792.80" stroke="#1c1c1c" stroke-width="1.25"/>
<line x1="338.80" y1="786.60" x2="338.80" y2="799.00" stroke="#1c1c1c" stroke-width="1.25"/>
<line x1="332.60" y1="786.60" x2="345.00" y2="786.60" stroke="#1c1c1c" stroke-width="1.25"/>
<line x1="332.60" y1="799.00" x2="345.00" y2="799.00" stroke="#1c1c1c" stroke-width="1.25"/>
<circle cx="336.30" cy="780.90" r="1.8" fill="none" stroke="#646870" stroke-width="0.85"/>
<circle cx="340.70" cy="777.00" r="1.8" fill="none" stroke="#646870" stroke-width="0.85"/>
<circle cx="338.60" cy="793.80" r="1.8" fill="none" stroke="#646870" stroke-width="0.85"/>
<circle cx="336.00" cy="806.80" r="1.8" fill="none" stroke="#646870" stroke-width="0.85"/>
<circle cx="341.20" cy="805.50" r="1.8" fill="none" stroke="#646870" stroke-width="0.85"/>
<line x1="361.00" y1="810.20" x2="384.80" y2="810.20" stroke="#1c1c1c" stroke-width="1.25"/>
<line x1="372.90" y1="810.20" x2="372.90" y2="810.20" stroke="#1c1c1c" stroke-width="1.25"/>
<line x1="372.90" y1="810.20" x2="372.90" y2="810.20" stroke="#1c1c1c" stroke-width="1.25"/>
<line x1="372.90" y1="810.20" x2="372.90" y2="810.20" stroke="#1c1c1c" stroke-width="1.25"/>
<rect x="368.00" y="804.10" width="3.4" height="3.4" fill="none" stroke="#56729e" stroke-width="0.85"/>
<rect x="373.60" y="804.90" width="3.4" height="3.4" fill="none" stroke="#56729e" stroke-width="0.85"/>
<rect x="362.30" y="808.60" width="3.4" height="3.4" fill="none" stroke="#56729e" stroke-width="0.85"/>
<rect x="365.10" y="808.90" width="3.4" height="3.4" fill="none" stroke="#56729e" stroke-width="0.85"/>
<rect x="370.90" y="809.50" width="3.4" height="3.4" fill="none" stroke="#56729e" stroke-width="0.85"/>
<rect x="376.70" y="809.30" width="3.4" height="3.4" fill="none" stroke="#56729e" stroke-width="0.85"/>
<rect x="379.80" y="808.90" width="3.4" height="3.4" fill="none" stroke="#56729e" stroke-width="0.85"/>
<line x1="395.80" y1="800.60" x2="419.40" y2="800.60" stroke="#1c1c1c" stroke-width="1.25"/>
<line x1="407.60" y1="795.10" x2="407.60" y2="805.60" stroke="#1c1c1c" stroke-width="1.25"/>
<line x1="401.40" y1="795.10" x2="413.80" y2="795.10" stroke="#1c1c1c" stroke-width="1.25"/>
<line x1="401.40" y1="805.60" x2="413.80" y2="805.60" stroke="#1c1c1c" stroke-width="1.25"/>
<circle cx="407.60" cy="770.90" r="1.95" fill="#a3112d"/>
<circle cx="407.60" cy="781.60" r="1.95" fill="#a3112d"/>
<circle cx="407.60" cy="804.00" r="1.95" fill="#a3112d"/>
<circle cx="398.10" cy="806.60" r="1.95" fill="#a3112d"/>
<circle cx="402.70" cy="809.60" r="1.95" fill="#a3112d"/>
<circle cx="407.60" cy="810.70" r="1.95" fill="#a3112d"/>
<circle cx="411.80" cy="810.00" r="1.95" fill="#a3112d"/>
<circle cx="416.70" cy="809.20" r="1.95" fill="#a3112d"/>
<rect x="431.60" y="810.20" width="3.6" height="3.6" fill="#5fa541"/>
<rect x="434.20" y="810.50" width="3.6" height="3.6" fill="#5fa541"/>
<rect x="436.80" y="810.70" width="3.6" height="3.6" fill="#5fa541"/>
<rect x="439.40" y="810.70" width="3.6" height="3.6" fill="#5fa541"/>
<rect x="442.00" y="810.70" width="3.6" height="3.6" fill="#5fa541"/>
<rect x="444.60" y="810.70" width="3.6" height="3.6" fill="#5fa541"/>
<rect x="447.20" y="810.50" width="3.6" height="3.6" fill="#5fa541"/>
<rect x="449.80" y="810.20" width="3.6" height="3.6" fill="#5fa541"/>
<rect x="430.80" y="808.10" width="3.6" height="3.6" fill="#5fa541"/>
<rect x="450.40" y="808.60" width="3.6" height="3.6" fill="#5fa541"/>
<line x1="464.10" y1="786.40" x2="487.70" y2="786.40" stroke="#1c1c1c" stroke-width="1.25"/>
<line x1="475.90" y1="768.50" x2="475.90" y2="804.40" stroke="#1c1c1c" stroke-width="1.25"/>
<line x1="469.70" y1="768.50" x2="482.10" y2="768.50" stroke="#1c1c1c" stroke-width="1.25"/>
<line x1="469.70" y1="804.40" x2="482.10" y2="804.40" stroke="#1c1c1c" stroke-width="1.25"/>
<path d="M475.90 749.50L477.90 751.50L475.90 753.50L473.90 751.50Z" fill="#642a68"/>
<path d="M475.90 795.90L477.90 797.90L475.90 799.90L473.90 797.90Z" fill="#642a68"/>
<path d="M475.90 807.30L477.90 809.30L475.90 811.30L473.90 809.30Z" fill="#642a68"/>
<line x1="337.80" y1="768.70" x2="372.90" y2="768.70" stroke="#1c1c1c" stroke-width="1.2"/>
<text x="343.62" y="765.20" font-size="6.7" text-anchor="start" fill="#2e2e2e" stroke="#2e2e2e" stroke-width="0.1" textLength="26.35" lengthAdjust="spacingAndGlyphs" >p=0.0087</text>
<line x1="406.10" y1="764.40" x2="441.50" y2="764.40" stroke="#1c1c1c" stroke-width="1.2"/>
<text x="411.82" y="760.20" font-size="6.7" text-anchor="start" fill="#2e2e2e" stroke="#2e2e2e" stroke-width="0.1" textLength="26.76" lengthAdjust="spacingAndGlyphs" >p=0.0037</text>
<text x="331.70" y="823.15" font-size="8.4" text-anchor="start" fill="#1e1e1e" stroke="#1e1e1e" stroke-width="0.06" textLength="12.51" lengthAdjust="spacingAndGlyphs" >PBS</text>
<text x="359.00" y="823.15" font-size="8.4" text-anchor="start" fill="#1e1e1e" stroke="#1e1e1e" stroke-width="0.06" textLength="30.30" lengthAdjust="spacingAndGlyphs" >&#945;-CD303</text>
<text x="400.99" y="823.15" font-size="8.4" text-anchor="start" fill="#1e1e1e" stroke="#1e1e1e" stroke-width="0.06" textLength="12.77" lengthAdjust="spacingAndGlyphs" >PBS</text>
<text x="425.20" y="823.15" font-size="8.4" text-anchor="start" fill="#1e1e1e" stroke="#1e1e1e" stroke-width="0.06" textLength="29.79" lengthAdjust="spacingAndGlyphs" >&#945;-CD303</text>
<text x="462.48" y="823.15" font-size="8.4" text-anchor="start" fill="#1e1e1e" stroke="#1e1e1e" stroke-width="0.06" textLength="36.73" lengthAdjust="spacingAndGlyphs" >isotype Ab</text>
<line x1="392.50" y1="829.50" x2="486.60" y2="829.50" stroke="#1c1c1c" stroke-width="1.15"/>
<text x="434.30" y="840.60" font-size="8.4" text-anchor="start" fill="#1e1e1e" stroke="#1e1e1e" stroke-width="0.06" textLength="12.61" lengthAdjust="spacingAndGlyphs" >EBV</text>
</svg>
<div id="fr"></div>
</body></html>
